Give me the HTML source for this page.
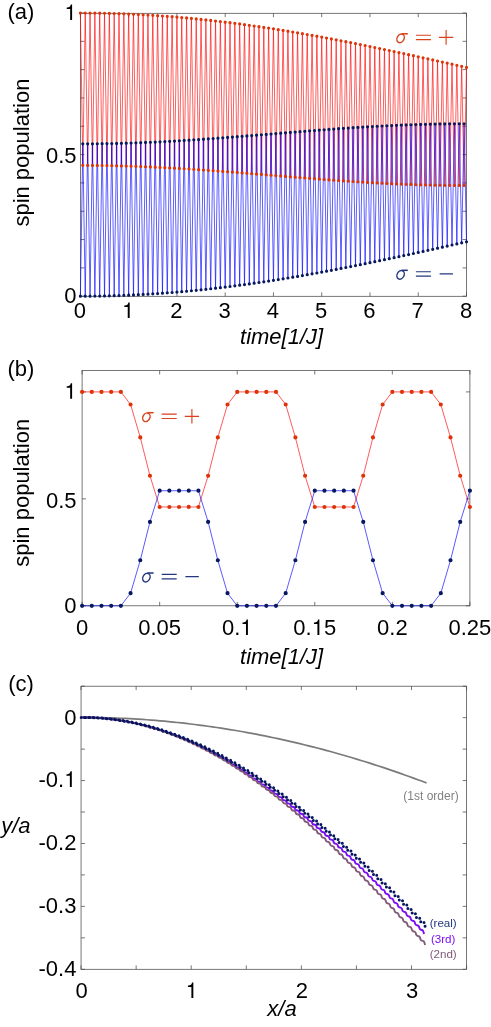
<!DOCTYPE html>
<html><head><meta charset="utf-8"><title>fig</title>
<style>html,body{margin:0;padding:0;background:#fff;font-family:"Liberation Sans",sans-serif;overflow:hidden}svg{display:block;position:absolute;left:0;top:0;will-change:transform}</style>
</head><body><svg width="491" height="1027" viewBox="0 0 491 1027" font-family="Liberation Sans, sans-serif"><rect x="80.4" y="13.3" width="386.1" height="283" fill="none" stroke="#4a4a4a" stroke-width="0.75"/>
<path d="M80.4 296.3v-3.9M80.4 13.3v3.9M128.66 296.3v-3.9M128.66 13.3v3.9M176.93 296.3v-3.9M176.93 13.3v3.9M225.19 296.3v-3.9M225.19 13.3v3.9M273.45 296.3v-3.9M273.45 13.3v3.9M321.71 296.3v-3.9M321.71 13.3v3.9M369.98 296.3v-3.9M369.98 13.3v3.9M418.24 296.3v-3.9M418.24 13.3v3.9M466.5 296.3v-3.9M466.5 13.3v3.9M80.4 296.2h3.9M466.5 296.2h-3.9M80.4 267.88h3.9M466.5 267.88h-3.9M80.4 239.56h3.9M466.5 239.56h-3.9M80.4 211.24h3.9M466.5 211.24h-3.9M80.4 182.92h3.9M466.5 182.92h-3.9M80.4 154.6h3.9M466.5 154.6h-3.9M80.4 126.28h3.9M466.5 126.28h-3.9M80.4 97.96h3.9M466.5 97.96h-3.9M80.4 69.64h3.9M466.5 69.64h-3.9M80.4 41.32h3.9M466.5 41.32h-3.9M80.4 13h3.9M466.5 13h-3.9" fill="none" stroke="#4a4a4a" stroke-width="0.75"/>
<path d="M80.4 13L82.81 165.36M85.23 13.01L87.64 165.38M90.05 13.04L92.47 165.41M94.88 13.09L97.29 165.46M99.71 13.17L102.12 165.52M104.53 13.26L106.94 165.6M109.36 13.38L111.77 165.69M114.18 13.51L116.6 165.79M119.01 13.67L121.42 165.92M123.84 13.84L126.25 166.05M128.66 14.04L131.08 166.2M133.49 14.26L135.9 166.37M138.32 14.5L140.73 166.55M143.14 14.75L145.55 166.74M147.97 15.03L150.38 166.95M152.79 15.33L155.21 167.17M157.62 15.65L160.03 167.4M162.45 15.99L164.86 167.64M167.27 16.34L169.69 167.9M172.1 16.72L174.51 168.17M176.93 17.12L179.34 168.45M181.75 17.54L184.16 168.74M186.58 17.97L188.99 169.04M191.4 18.43L193.82 169.35M196.23 18.9L198.64 169.67M201.06 19.39L203.47 169.99M205.88 19.9L208.3 170.33M210.71 20.43L213.12 170.68M215.54 20.98L217.95 171.03M220.36 21.54L222.77 171.39M225.19 22.13L227.6 171.75M230.01 22.72L232.43 172.12M234.84 23.34L237.25 172.5M239.67 23.98L242.08 172.88M244.49 24.63L246.91 173.26M249.32 25.29L251.73 173.65M254.15 25.98L256.56 174.04M258.97 26.68L261.38 174.43M263.8 27.39L266.21 174.82M268.62 28.12L271.04 175.22M273.45 28.87L275.86 175.61M278.28 29.63L280.69 176.01M283.1 30.4L285.52 176.4M287.93 31.19L290.34 176.79M292.75 32L295.17 177.18M297.58 32.82L299.99 177.57M302.41 33.65L304.82 177.95M307.23 34.49L309.65 178.33M312.06 35.35L314.47 178.71M316.89 36.22L319.3 179.08M321.71 37.1L324.13 179.44M326.54 37.99L328.95 179.8M331.37 38.9L333.78 180.15M336.19 39.81L338.6 180.5M341.02 40.74L343.43 180.84M345.84 41.68L348.26 181.16M350.67 42.62L353.08 181.48M355.5 43.58L357.91 181.79M360.32 44.55L362.74 182.09M365.15 45.52L367.56 182.38M369.98 46.51L372.39 182.66M374.8 47.5L377.21 182.93M379.63 48.5L382.04 183.19M384.45 49.51L386.87 183.43M389.28 50.52L391.69 183.66M394.11 51.55L396.52 183.88M398.93 52.57L401.35 184.09M403.76 53.61L406.17 184.28M408.59 54.65L411 184.46M413.41 55.69L415.82 184.63M418.24 56.74L420.65 184.78M423.06 57.8L425.48 184.91M427.89 58.86L430.3 185.04M432.72 59.92L435.13 185.14M437.54 60.99L439.96 185.24M442.37 62.05L444.78 185.31M447.2 63.12L449.61 185.37M452.02 64.2L454.43 185.42M456.85 65.27L459.26 185.45M461.67 66.35L464.09 185.47" fill="none" stroke="#ff0000" stroke-width="0.63" stroke-linecap="round"/>
<path d="M82.81 165.36L85.23 13.01M87.64 165.38L90.05 13.04M92.47 165.41L94.88 13.09M97.29 165.46L99.71 13.17M102.12 165.52L104.53 13.26M106.94 165.6L109.36 13.38M111.77 165.69L114.18 13.51M116.6 165.79L119.01 13.67M121.42 165.92L123.84 13.84M126.25 166.05L128.66 14.04M131.08 166.2L133.49 14.26M135.9 166.37L138.32 14.5M140.73 166.55L143.14 14.75M145.55 166.74L147.97 15.03M150.38 166.95L152.79 15.33M155.21 167.17L157.62 15.65M160.03 167.4L162.45 15.99M164.86 167.64L167.27 16.34M169.69 167.9L172.1 16.72M174.51 168.17L176.93 17.12M179.34 168.45L181.75 17.54M184.16 168.74L186.58 17.97M188.99 169.04L191.4 18.43M193.82 169.35L196.23 18.9M198.64 169.67L201.06 19.39M203.47 169.99L205.88 19.9M208.3 170.33L210.71 20.43M213.12 170.68L215.54 20.98M217.95 171.03L220.36 21.54M222.77 171.39L225.19 22.13M227.6 171.75L230.01 22.72M232.43 172.12L234.84 23.34M237.25 172.5L239.67 23.98M242.08 172.88L244.49 24.63M246.91 173.26L249.32 25.29M251.73 173.65L254.15 25.98M256.56 174.04L258.97 26.68M261.38 174.43L263.8 27.39M266.21 174.82L268.62 28.12M271.04 175.22L273.45 28.87M275.86 175.61L278.28 29.63M280.69 176.01L283.1 30.4M285.52 176.4L287.93 31.19M290.34 176.79L292.75 32M295.17 177.18L297.58 32.82M299.99 177.57L302.41 33.65M304.82 177.95L307.23 34.49M309.65 178.33L312.06 35.35M314.47 178.71L316.89 36.22M319.3 179.08L321.71 37.1M324.13 179.44L326.54 37.99M328.95 179.8L331.37 38.9M333.78 180.15L336.19 39.81M338.6 180.5L341.02 40.74M343.43 180.84L345.84 41.68M348.26 181.16L350.67 42.62M353.08 181.48L355.5 43.58M357.91 181.79L360.32 44.55M362.74 182.09L365.15 45.52M367.56 182.38L369.98 46.51M372.39 182.66L374.8 47.5M377.21 182.93L379.63 48.5M382.04 183.19L384.45 49.51M386.87 183.43L389.28 50.52M391.69 183.66L394.11 51.55M396.52 183.88L398.93 52.57M401.35 184.09L403.76 53.61M406.17 184.28L408.59 54.65M411 184.46L413.41 55.69M415.82 184.63L418.24 56.74M420.65 184.78L423.06 57.8M425.48 184.91L427.89 58.86M430.3 185.04L432.72 59.92M435.13 185.14L437.54 60.99M439.96 185.24L442.37 62.05M444.78 185.31L447.2 63.12M449.61 185.37L452.02 64.2M454.43 185.42L456.85 65.27M459.26 185.45L461.67 66.35M464.09 185.47L466.5 67.42" fill="none" stroke="#ff0000" stroke-width="0.63" stroke-linecap="round"/>
<path d="M80.4 296.2L82.81 143.84M85.23 296.19L87.64 143.82M90.05 296.16L92.47 143.79M94.88 296.11L97.29 143.74M99.71 296.03L102.12 143.68M104.53 295.94L106.94 143.6M109.36 295.82L111.77 143.51M114.18 295.69L116.6 143.41M119.01 295.53L121.42 143.28M123.84 295.36L126.25 143.15M128.66 295.16L131.08 143M133.49 294.94L135.9 142.83M138.32 294.7L140.73 142.65M143.14 294.45L145.55 142.46M147.97 294.17L150.38 142.25M152.79 293.87L155.21 142.03M157.62 293.55L160.03 141.8M162.45 293.21L164.86 141.56M167.27 292.86L169.69 141.3M172.1 292.48L174.51 141.03M176.93 292.08L179.34 140.75M181.75 291.66L184.16 140.46M186.58 291.23L188.99 140.16M191.4 290.77L193.82 139.85M196.23 290.3L198.64 139.53M201.06 289.81L203.47 139.21M205.88 289.3L208.3 138.87M210.71 288.77L213.12 138.52M215.54 288.22L217.95 138.17M220.36 287.66L222.77 137.81M225.19 287.07L227.6 137.45M230.01 286.48L232.43 137.08M234.84 285.86L237.25 136.7M239.67 285.22L242.08 136.32M244.49 284.57L246.91 135.94M249.32 283.91L251.73 135.55M254.15 283.22L256.56 135.16M258.97 282.52L261.38 134.77M263.8 281.81L266.21 134.38M268.62 281.08L271.04 133.98M273.45 280.33L275.86 133.59M278.28 279.57L280.69 133.19M283.1 278.8L285.52 132.8M287.93 278.01L290.34 132.41M292.75 277.2L295.17 132.02M297.58 276.38L299.99 131.63M302.41 275.55L304.82 131.25M307.23 274.71L309.65 130.87M312.06 273.85L314.47 130.49M316.89 272.98L319.3 130.12M321.71 272.1L324.13 129.76M326.54 271.21L328.95 129.4M331.37 270.3L333.78 129.05M336.19 269.39L338.6 128.7M341.02 268.46L343.43 128.36M345.84 267.52L348.26 128.04M350.67 266.58L353.08 127.72M355.5 265.62L357.91 127.41M360.32 264.65L362.74 127.11M365.15 263.68L367.56 126.82M369.98 262.69L372.39 126.54M374.8 261.7L377.21 126.27M379.63 260.7L382.04 126.01M384.45 259.69L386.87 125.77M389.28 258.68L391.69 125.54M394.11 257.65L396.52 125.32M398.93 256.63L401.35 125.11M403.76 255.59L406.17 124.92M408.59 254.55L411 124.74M413.41 253.51L415.82 124.57M418.24 252.46L420.65 124.42M423.06 251.4L425.48 124.29M427.89 250.34L430.3 124.16M432.72 249.28L435.13 124.06M437.54 248.21L439.96 123.96M442.37 247.15L444.78 123.89M447.2 246.08L449.61 123.83M452.02 245L454.43 123.78M456.85 243.93L459.26 123.75M461.67 242.85L464.09 123.73" fill="none" stroke="#0000ff" stroke-width="0.63" stroke-linecap="round"/>
<path d="M82.81 143.84L85.23 296.19M87.64 143.82L90.05 296.16M92.47 143.79L94.88 296.11M97.29 143.74L99.71 296.03M102.12 143.68L104.53 295.94M106.94 143.6L109.36 295.82M111.77 143.51L114.18 295.69M116.6 143.41L119.01 295.53M121.42 143.28L123.84 295.36M126.25 143.15L128.66 295.16M131.08 143L133.49 294.94M135.9 142.83L138.32 294.7M140.73 142.65L143.14 294.45M145.55 142.46L147.97 294.17M150.38 142.25L152.79 293.87M155.21 142.03L157.62 293.55M160.03 141.8L162.45 293.21M164.86 141.56L167.27 292.86M169.69 141.3L172.1 292.48M174.51 141.03L176.93 292.08M179.34 140.75L181.75 291.66M184.16 140.46L186.58 291.23M188.99 140.16L191.4 290.77M193.82 139.85L196.23 290.3M198.64 139.53L201.06 289.81M203.47 139.21L205.88 289.3M208.3 138.87L210.71 288.77M213.12 138.52L215.54 288.22M217.95 138.17L220.36 287.66M222.77 137.81L225.19 287.07M227.6 137.45L230.01 286.48M232.43 137.08L234.84 285.86M237.25 136.7L239.67 285.22M242.08 136.32L244.49 284.57M246.91 135.94L249.32 283.91M251.73 135.55L254.15 283.22M256.56 135.16L258.97 282.52M261.38 134.77L263.8 281.81M266.21 134.38L268.62 281.08M271.04 133.98L273.45 280.33M275.86 133.59L278.28 279.57M280.69 133.19L283.1 278.8M285.52 132.8L287.93 278.01M290.34 132.41L292.75 277.2M295.17 132.02L297.58 276.38M299.99 131.63L302.41 275.55M304.82 131.25L307.23 274.71M309.65 130.87L312.06 273.85M314.47 130.49L316.89 272.98M319.3 130.12L321.71 272.1M324.13 129.76L326.54 271.21M328.95 129.4L331.37 270.3M333.78 129.05L336.19 269.39M338.6 128.7L341.02 268.46M343.43 128.36L345.84 267.52M348.26 128.04L350.67 266.58M353.08 127.72L355.5 265.62M357.91 127.41L360.32 264.65M362.74 127.11L365.15 263.68M367.56 126.82L369.98 262.69M372.39 126.54L374.8 261.7M377.21 126.27L379.63 260.7M382.04 126.01L384.45 259.69M386.87 125.77L389.28 258.68M391.69 125.54L394.11 257.65M396.52 125.32L398.93 256.63M401.35 125.11L403.76 255.59M406.17 124.92L408.59 254.55M411 124.74L413.41 253.51M415.82 124.57L418.24 252.46M420.65 124.42L423.06 251.4M425.48 124.29L427.89 250.34M430.3 124.16L432.72 249.28M435.13 124.06L437.54 248.21M439.96 123.96L442.37 247.15M444.78 123.89L447.2 246.08M449.61 123.83L452.02 245M454.43 123.78L456.85 243.93M459.26 123.75L461.67 242.85M464.09 123.73L466.5 241.78" fill="none" stroke="#0000ff" stroke-width="0.63" stroke-linecap="round"/>
<path d="M78.8 13a1.6 1.6 0 1 0 3.2 0a1.6 1.6 0 1 0 -3.2 0zM81.21 165.36a1.6 1.6 0 1 0 3.2 0a1.6 1.6 0 1 0 -3.2 0zM83.63 13.01a1.6 1.6 0 1 0 3.2 0a1.6 1.6 0 1 0 -3.2 0zM86.04 165.38a1.6 1.6 0 1 0 3.2 0a1.6 1.6 0 1 0 -3.2 0zM88.45 13.04a1.6 1.6 0 1 0 3.2 0a1.6 1.6 0 1 0 -3.2 0zM90.87 165.41a1.6 1.6 0 1 0 3.2 0a1.6 1.6 0 1 0 -3.2 0zM93.28 13.09a1.6 1.6 0 1 0 3.2 0a1.6 1.6 0 1 0 -3.2 0zM95.69 165.46a1.6 1.6 0 1 0 3.2 0a1.6 1.6 0 1 0 -3.2 0zM98.11 13.17a1.6 1.6 0 1 0 3.2 0a1.6 1.6 0 1 0 -3.2 0zM100.52 165.52a1.6 1.6 0 1 0 3.2 0a1.6 1.6 0 1 0 -3.2 0zM102.93 13.26a1.6 1.6 0 1 0 3.2 0a1.6 1.6 0 1 0 -3.2 0zM105.34 165.6a1.6 1.6 0 1 0 3.2 0a1.6 1.6 0 1 0 -3.2 0zM107.76 13.38a1.6 1.6 0 1 0 3.2 0a1.6 1.6 0 1 0 -3.2 0zM110.17 165.69a1.6 1.6 0 1 0 3.2 0a1.6 1.6 0 1 0 -3.2 0zM112.58 13.51a1.6 1.6 0 1 0 3.2 0a1.6 1.6 0 1 0 -3.2 0zM115 165.79a1.6 1.6 0 1 0 3.2 0a1.6 1.6 0 1 0 -3.2 0zM117.41 13.67a1.6 1.6 0 1 0 3.2 0a1.6 1.6 0 1 0 -3.2 0zM119.82 165.92a1.6 1.6 0 1 0 3.2 0a1.6 1.6 0 1 0 -3.2 0zM122.24 13.84a1.6 1.6 0 1 0 3.2 0a1.6 1.6 0 1 0 -3.2 0zM124.65 166.05a1.6 1.6 0 1 0 3.2 0a1.6 1.6 0 1 0 -3.2 0zM127.06 14.04a1.6 1.6 0 1 0 3.2 0a1.6 1.6 0 1 0 -3.2 0zM129.48 166.2a1.6 1.6 0 1 0 3.2 0a1.6 1.6 0 1 0 -3.2 0zM131.89 14.26a1.6 1.6 0 1 0 3.2 0a1.6 1.6 0 1 0 -3.2 0zM134.3 166.37a1.6 1.6 0 1 0 3.2 0a1.6 1.6 0 1 0 -3.2 0zM136.72 14.5a1.6 1.6 0 1 0 3.2 0a1.6 1.6 0 1 0 -3.2 0zM139.13 166.55a1.6 1.6 0 1 0 3.2 0a1.6 1.6 0 1 0 -3.2 0zM141.54 14.75a1.6 1.6 0 1 0 3.2 0a1.6 1.6 0 1 0 -3.2 0zM143.95 166.74a1.6 1.6 0 1 0 3.2 0a1.6 1.6 0 1 0 -3.2 0zM146.37 15.03a1.6 1.6 0 1 0 3.2 0a1.6 1.6 0 1 0 -3.2 0zM148.78 166.95a1.6 1.6 0 1 0 3.2 0a1.6 1.6 0 1 0 -3.2 0zM151.19 15.33a1.6 1.6 0 1 0 3.2 0a1.6 1.6 0 1 0 -3.2 0zM153.61 167.17a1.6 1.6 0 1 0 3.2 0a1.6 1.6 0 1 0 -3.2 0zM156.02 15.65a1.6 1.6 0 1 0 3.2 0a1.6 1.6 0 1 0 -3.2 0zM158.43 167.4a1.6 1.6 0 1 0 3.2 0a1.6 1.6 0 1 0 -3.2 0zM160.85 15.99a1.6 1.6 0 1 0 3.2 0a1.6 1.6 0 1 0 -3.2 0zM163.26 167.64a1.6 1.6 0 1 0 3.2 0a1.6 1.6 0 1 0 -3.2 0zM165.67 16.34a1.6 1.6 0 1 0 3.2 0a1.6 1.6 0 1 0 -3.2 0zM168.09 167.9a1.6 1.6 0 1 0 3.2 0a1.6 1.6 0 1 0 -3.2 0zM170.5 16.72a1.6 1.6 0 1 0 3.2 0a1.6 1.6 0 1 0 -3.2 0zM172.91 168.17a1.6 1.6 0 1 0 3.2 0a1.6 1.6 0 1 0 -3.2 0zM175.33 17.12a1.6 1.6 0 1 0 3.2 0a1.6 1.6 0 1 0 -3.2 0zM177.74 168.45a1.6 1.6 0 1 0 3.2 0a1.6 1.6 0 1 0 -3.2 0zM180.15 17.54a1.6 1.6 0 1 0 3.2 0a1.6 1.6 0 1 0 -3.2 0zM182.56 168.74a1.6 1.6 0 1 0 3.2 0a1.6 1.6 0 1 0 -3.2 0zM184.98 17.97a1.6 1.6 0 1 0 3.2 0a1.6 1.6 0 1 0 -3.2 0zM187.39 169.04a1.6 1.6 0 1 0 3.2 0a1.6 1.6 0 1 0 -3.2 0zM189.8 18.43a1.6 1.6 0 1 0 3.2 0a1.6 1.6 0 1 0 -3.2 0zM192.22 169.35a1.6 1.6 0 1 0 3.2 0a1.6 1.6 0 1 0 -3.2 0zM194.63 18.9a1.6 1.6 0 1 0 3.2 0a1.6 1.6 0 1 0 -3.2 0zM197.04 169.67a1.6 1.6 0 1 0 3.2 0a1.6 1.6 0 1 0 -3.2 0zM199.46 19.39a1.6 1.6 0 1 0 3.2 0a1.6 1.6 0 1 0 -3.2 0zM201.87 169.99a1.6 1.6 0 1 0 3.2 0a1.6 1.6 0 1 0 -3.2 0zM204.28 19.9a1.6 1.6 0 1 0 3.2 0a1.6 1.6 0 1 0 -3.2 0zM206.7 170.33a1.6 1.6 0 1 0 3.2 0a1.6 1.6 0 1 0 -3.2 0zM209.11 20.43a1.6 1.6 0 1 0 3.2 0a1.6 1.6 0 1 0 -3.2 0zM211.52 170.68a1.6 1.6 0 1 0 3.2 0a1.6 1.6 0 1 0 -3.2 0zM213.94 20.98a1.6 1.6 0 1 0 3.2 0a1.6 1.6 0 1 0 -3.2 0zM216.35 171.03a1.6 1.6 0 1 0 3.2 0a1.6 1.6 0 1 0 -3.2 0zM218.76 21.54a1.6 1.6 0 1 0 3.2 0a1.6 1.6 0 1 0 -3.2 0zM221.17 171.39a1.6 1.6 0 1 0 3.2 0a1.6 1.6 0 1 0 -3.2 0zM223.59 22.13a1.6 1.6 0 1 0 3.2 0a1.6 1.6 0 1 0 -3.2 0zM226 171.75a1.6 1.6 0 1 0 3.2 0a1.6 1.6 0 1 0 -3.2 0zM228.41 22.72a1.6 1.6 0 1 0 3.2 0a1.6 1.6 0 1 0 -3.2 0zM230.83 172.12a1.6 1.6 0 1 0 3.2 0a1.6 1.6 0 1 0 -3.2 0zM233.24 23.34a1.6 1.6 0 1 0 3.2 0a1.6 1.6 0 1 0 -3.2 0zM235.65 172.5a1.6 1.6 0 1 0 3.2 0a1.6 1.6 0 1 0 -3.2 0zM238.07 23.98a1.6 1.6 0 1 0 3.2 0a1.6 1.6 0 1 0 -3.2 0zM240.48 172.88a1.6 1.6 0 1 0 3.2 0a1.6 1.6 0 1 0 -3.2 0zM242.89 24.63a1.6 1.6 0 1 0 3.2 0a1.6 1.6 0 1 0 -3.2 0zM245.31 173.26a1.6 1.6 0 1 0 3.2 0a1.6 1.6 0 1 0 -3.2 0zM247.72 25.29a1.6 1.6 0 1 0 3.2 0a1.6 1.6 0 1 0 -3.2 0zM250.13 173.65a1.6 1.6 0 1 0 3.2 0a1.6 1.6 0 1 0 -3.2 0zM252.55 25.98a1.6 1.6 0 1 0 3.2 0a1.6 1.6 0 1 0 -3.2 0zM254.96 174.04a1.6 1.6 0 1 0 3.2 0a1.6 1.6 0 1 0 -3.2 0zM257.37 26.68a1.6 1.6 0 1 0 3.2 0a1.6 1.6 0 1 0 -3.2 0zM259.78 174.43a1.6 1.6 0 1 0 3.2 0a1.6 1.6 0 1 0 -3.2 0zM262.2 27.39a1.6 1.6 0 1 0 3.2 0a1.6 1.6 0 1 0 -3.2 0zM264.61 174.82a1.6 1.6 0 1 0 3.2 0a1.6 1.6 0 1 0 -3.2 0zM267.02 28.12a1.6 1.6 0 1 0 3.2 0a1.6 1.6 0 1 0 -3.2 0zM269.44 175.22a1.6 1.6 0 1 0 3.2 0a1.6 1.6 0 1 0 -3.2 0zM271.85 28.87a1.6 1.6 0 1 0 3.2 0a1.6 1.6 0 1 0 -3.2 0zM274.26 175.61a1.6 1.6 0 1 0 3.2 0a1.6 1.6 0 1 0 -3.2 0zM276.68 29.63a1.6 1.6 0 1 0 3.2 0a1.6 1.6 0 1 0 -3.2 0zM279.09 176.01a1.6 1.6 0 1 0 3.2 0a1.6 1.6 0 1 0 -3.2 0zM281.5 30.4a1.6 1.6 0 1 0 3.2 0a1.6 1.6 0 1 0 -3.2 0zM283.92 176.4a1.6 1.6 0 1 0 3.2 0a1.6 1.6 0 1 0 -3.2 0zM286.33 31.19a1.6 1.6 0 1 0 3.2 0a1.6 1.6 0 1 0 -3.2 0zM288.74 176.79a1.6 1.6 0 1 0 3.2 0a1.6 1.6 0 1 0 -3.2 0zM291.15 32a1.6 1.6 0 1 0 3.2 0a1.6 1.6 0 1 0 -3.2 0zM293.57 177.18a1.6 1.6 0 1 0 3.2 0a1.6 1.6 0 1 0 -3.2 0zM295.98 32.82a1.6 1.6 0 1 0 3.2 0a1.6 1.6 0 1 0 -3.2 0zM298.39 177.57a1.6 1.6 0 1 0 3.2 0a1.6 1.6 0 1 0 -3.2 0zM300.81 33.65a1.6 1.6 0 1 0 3.2 0a1.6 1.6 0 1 0 -3.2 0zM303.22 177.95a1.6 1.6 0 1 0 3.2 0a1.6 1.6 0 1 0 -3.2 0zM305.63 34.49a1.6 1.6 0 1 0 3.2 0a1.6 1.6 0 1 0 -3.2 0zM308.05 178.33a1.6 1.6 0 1 0 3.2 0a1.6 1.6 0 1 0 -3.2 0zM310.46 35.35a1.6 1.6 0 1 0 3.2 0a1.6 1.6 0 1 0 -3.2 0zM312.87 178.71a1.6 1.6 0 1 0 3.2 0a1.6 1.6 0 1 0 -3.2 0zM315.29 36.22a1.6 1.6 0 1 0 3.2 0a1.6 1.6 0 1 0 -3.2 0zM317.7 179.08a1.6 1.6 0 1 0 3.2 0a1.6 1.6 0 1 0 -3.2 0zM320.11 37.1a1.6 1.6 0 1 0 3.2 0a1.6 1.6 0 1 0 -3.2 0zM322.53 179.44a1.6 1.6 0 1 0 3.2 0a1.6 1.6 0 1 0 -3.2 0zM324.94 37.99a1.6 1.6 0 1 0 3.2 0a1.6 1.6 0 1 0 -3.2 0zM327.35 179.8a1.6 1.6 0 1 0 3.2 0a1.6 1.6 0 1 0 -3.2 0zM329.76 38.9a1.6 1.6 0 1 0 3.2 0a1.6 1.6 0 1 0 -3.2 0zM332.18 180.15a1.6 1.6 0 1 0 3.2 0a1.6 1.6 0 1 0 -3.2 0zM334.59 39.81a1.6 1.6 0 1 0 3.2 0a1.6 1.6 0 1 0 -3.2 0zM337 180.5a1.6 1.6 0 1 0 3.2 0a1.6 1.6 0 1 0 -3.2 0zM339.42 40.74a1.6 1.6 0 1 0 3.2 0a1.6 1.6 0 1 0 -3.2 0zM341.83 180.84a1.6 1.6 0 1 0 3.2 0a1.6 1.6 0 1 0 -3.2 0zM344.24 41.68a1.6 1.6 0 1 0 3.2 0a1.6 1.6 0 1 0 -3.2 0zM346.66 181.16a1.6 1.6 0 1 0 3.2 0a1.6 1.6 0 1 0 -3.2 0zM349.07 42.62a1.6 1.6 0 1 0 3.2 0a1.6 1.6 0 1 0 -3.2 0zM351.48 181.48a1.6 1.6 0 1 0 3.2 0a1.6 1.6 0 1 0 -3.2 0zM353.9 43.58a1.6 1.6 0 1 0 3.2 0a1.6 1.6 0 1 0 -3.2 0zM356.31 181.79a1.6 1.6 0 1 0 3.2 0a1.6 1.6 0 1 0 -3.2 0zM358.72 44.55a1.6 1.6 0 1 0 3.2 0a1.6 1.6 0 1 0 -3.2 0zM361.14 182.09a1.6 1.6 0 1 0 3.2 0a1.6 1.6 0 1 0 -3.2 0zM363.55 45.52a1.6 1.6 0 1 0 3.2 0a1.6 1.6 0 1 0 -3.2 0zM365.96 182.38a1.6 1.6 0 1 0 3.2 0a1.6 1.6 0 1 0 -3.2 0zM368.38 46.51a1.6 1.6 0 1 0 3.2 0a1.6 1.6 0 1 0 -3.2 0zM370.79 182.66a1.6 1.6 0 1 0 3.2 0a1.6 1.6 0 1 0 -3.2 0zM373.2 47.5a1.6 1.6 0 1 0 3.2 0a1.6 1.6 0 1 0 -3.2 0zM375.61 182.93a1.6 1.6 0 1 0 3.2 0a1.6 1.6 0 1 0 -3.2 0zM378.03 48.5a1.6 1.6 0 1 0 3.2 0a1.6 1.6 0 1 0 -3.2 0zM380.44 183.19a1.6 1.6 0 1 0 3.2 0a1.6 1.6 0 1 0 -3.2 0zM382.85 49.51a1.6 1.6 0 1 0 3.2 0a1.6 1.6 0 1 0 -3.2 0zM385.27 183.43a1.6 1.6 0 1 0 3.2 0a1.6 1.6 0 1 0 -3.2 0zM387.68 50.52a1.6 1.6 0 1 0 3.2 0a1.6 1.6 0 1 0 -3.2 0zM390.09 183.66a1.6 1.6 0 1 0 3.2 0a1.6 1.6 0 1 0 -3.2 0zM392.51 51.55a1.6 1.6 0 1 0 3.2 0a1.6 1.6 0 1 0 -3.2 0zM394.92 183.88a1.6 1.6 0 1 0 3.2 0a1.6 1.6 0 1 0 -3.2 0zM397.33 52.57a1.6 1.6 0 1 0 3.2 0a1.6 1.6 0 1 0 -3.2 0zM399.75 184.09a1.6 1.6 0 1 0 3.2 0a1.6 1.6 0 1 0 -3.2 0zM402.16 53.61a1.6 1.6 0 1 0 3.2 0a1.6 1.6 0 1 0 -3.2 0zM404.57 184.28a1.6 1.6 0 1 0 3.2 0a1.6 1.6 0 1 0 -3.2 0zM406.99 54.65a1.6 1.6 0 1 0 3.2 0a1.6 1.6 0 1 0 -3.2 0zM409.4 184.46a1.6 1.6 0 1 0 3.2 0a1.6 1.6 0 1 0 -3.2 0zM411.81 55.69a1.6 1.6 0 1 0 3.2 0a1.6 1.6 0 1 0 -3.2 0zM414.22 184.63a1.6 1.6 0 1 0 3.2 0a1.6 1.6 0 1 0 -3.2 0zM416.64 56.74a1.6 1.6 0 1 0 3.2 0a1.6 1.6 0 1 0 -3.2 0zM419.05 184.78a1.6 1.6 0 1 0 3.2 0a1.6 1.6 0 1 0 -3.2 0zM421.46 57.8a1.6 1.6 0 1 0 3.2 0a1.6 1.6 0 1 0 -3.2 0zM423.88 184.91a1.6 1.6 0 1 0 3.2 0a1.6 1.6 0 1 0 -3.2 0zM426.29 58.86a1.6 1.6 0 1 0 3.2 0a1.6 1.6 0 1 0 -3.2 0zM428.7 185.04a1.6 1.6 0 1 0 3.2 0a1.6 1.6 0 1 0 -3.2 0zM431.12 59.92a1.6 1.6 0 1 0 3.2 0a1.6 1.6 0 1 0 -3.2 0zM433.53 185.14a1.6 1.6 0 1 0 3.2 0a1.6 1.6 0 1 0 -3.2 0zM435.94 60.99a1.6 1.6 0 1 0 3.2 0a1.6 1.6 0 1 0 -3.2 0zM438.36 185.24a1.6 1.6 0 1 0 3.2 0a1.6 1.6 0 1 0 -3.2 0zM440.77 62.05a1.6 1.6 0 1 0 3.2 0a1.6 1.6 0 1 0 -3.2 0zM443.18 185.31a1.6 1.6 0 1 0 3.2 0a1.6 1.6 0 1 0 -3.2 0zM445.6 63.12a1.6 1.6 0 1 0 3.2 0a1.6 1.6 0 1 0 -3.2 0zM448.01 185.37a1.6 1.6 0 1 0 3.2 0a1.6 1.6 0 1 0 -3.2 0zM450.42 64.2a1.6 1.6 0 1 0 3.2 0a1.6 1.6 0 1 0 -3.2 0zM452.83 185.42a1.6 1.6 0 1 0 3.2 0a1.6 1.6 0 1 0 -3.2 0zM455.25 65.27a1.6 1.6 0 1 0 3.2 0a1.6 1.6 0 1 0 -3.2 0zM457.66 185.45a1.6 1.6 0 1 0 3.2 0a1.6 1.6 0 1 0 -3.2 0zM460.07 66.35a1.6 1.6 0 1 0 3.2 0a1.6 1.6 0 1 0 -3.2 0zM462.49 185.47a1.6 1.6 0 1 0 3.2 0a1.6 1.6 0 1 0 -3.2 0zM464.9 67.42a1.6 1.6 0 1 0 3.2 0a1.6 1.6 0 1 0 -3.2 0z" fill="#de3208"/>
<path d="M78.8 296.2a1.6 1.6 0 1 0 3.2 0a1.6 1.6 0 1 0 -3.2 0zM81.21 143.84a1.6 1.6 0 1 0 3.2 0a1.6 1.6 0 1 0 -3.2 0zM83.63 296.19a1.6 1.6 0 1 0 3.2 0a1.6 1.6 0 1 0 -3.2 0zM86.04 143.82a1.6 1.6 0 1 0 3.2 0a1.6 1.6 0 1 0 -3.2 0zM88.45 296.16a1.6 1.6 0 1 0 3.2 0a1.6 1.6 0 1 0 -3.2 0zM90.87 143.79a1.6 1.6 0 1 0 3.2 0a1.6 1.6 0 1 0 -3.2 0zM93.28 296.11a1.6 1.6 0 1 0 3.2 0a1.6 1.6 0 1 0 -3.2 0zM95.69 143.74a1.6 1.6 0 1 0 3.2 0a1.6 1.6 0 1 0 -3.2 0zM98.11 296.03a1.6 1.6 0 1 0 3.2 0a1.6 1.6 0 1 0 -3.2 0zM100.52 143.68a1.6 1.6 0 1 0 3.2 0a1.6 1.6 0 1 0 -3.2 0zM102.93 295.94a1.6 1.6 0 1 0 3.2 0a1.6 1.6 0 1 0 -3.2 0zM105.34 143.6a1.6 1.6 0 1 0 3.2 0a1.6 1.6 0 1 0 -3.2 0zM107.76 295.82a1.6 1.6 0 1 0 3.2 0a1.6 1.6 0 1 0 -3.2 0zM110.17 143.51a1.6 1.6 0 1 0 3.2 0a1.6 1.6 0 1 0 -3.2 0zM112.58 295.69a1.6 1.6 0 1 0 3.2 0a1.6 1.6 0 1 0 -3.2 0zM115 143.41a1.6 1.6 0 1 0 3.2 0a1.6 1.6 0 1 0 -3.2 0zM117.41 295.53a1.6 1.6 0 1 0 3.2 0a1.6 1.6 0 1 0 -3.2 0zM119.82 143.28a1.6 1.6 0 1 0 3.2 0a1.6 1.6 0 1 0 -3.2 0zM122.24 295.36a1.6 1.6 0 1 0 3.2 0a1.6 1.6 0 1 0 -3.2 0zM124.65 143.15a1.6 1.6 0 1 0 3.2 0a1.6 1.6 0 1 0 -3.2 0zM127.06 295.16a1.6 1.6 0 1 0 3.2 0a1.6 1.6 0 1 0 -3.2 0zM129.48 143a1.6 1.6 0 1 0 3.2 0a1.6 1.6 0 1 0 -3.2 0zM131.89 294.94a1.6 1.6 0 1 0 3.2 0a1.6 1.6 0 1 0 -3.2 0zM134.3 142.83a1.6 1.6 0 1 0 3.2 0a1.6 1.6 0 1 0 -3.2 0zM136.72 294.7a1.6 1.6 0 1 0 3.2 0a1.6 1.6 0 1 0 -3.2 0zM139.13 142.65a1.6 1.6 0 1 0 3.2 0a1.6 1.6 0 1 0 -3.2 0zM141.54 294.45a1.6 1.6 0 1 0 3.2 0a1.6 1.6 0 1 0 -3.2 0zM143.95 142.46a1.6 1.6 0 1 0 3.2 0a1.6 1.6 0 1 0 -3.2 0zM146.37 294.17a1.6 1.6 0 1 0 3.2 0a1.6 1.6 0 1 0 -3.2 0zM148.78 142.25a1.6 1.6 0 1 0 3.2 0a1.6 1.6 0 1 0 -3.2 0zM151.19 293.87a1.6 1.6 0 1 0 3.2 0a1.6 1.6 0 1 0 -3.2 0zM153.61 142.03a1.6 1.6 0 1 0 3.2 0a1.6 1.6 0 1 0 -3.2 0zM156.02 293.55a1.6 1.6 0 1 0 3.2 0a1.6 1.6 0 1 0 -3.2 0zM158.43 141.8a1.6 1.6 0 1 0 3.2 0a1.6 1.6 0 1 0 -3.2 0zM160.85 293.21a1.6 1.6 0 1 0 3.2 0a1.6 1.6 0 1 0 -3.2 0zM163.26 141.56a1.6 1.6 0 1 0 3.2 0a1.6 1.6 0 1 0 -3.2 0zM165.67 292.86a1.6 1.6 0 1 0 3.2 0a1.6 1.6 0 1 0 -3.2 0zM168.09 141.3a1.6 1.6 0 1 0 3.2 0a1.6 1.6 0 1 0 -3.2 0zM170.5 292.48a1.6 1.6 0 1 0 3.2 0a1.6 1.6 0 1 0 -3.2 0zM172.91 141.03a1.6 1.6 0 1 0 3.2 0a1.6 1.6 0 1 0 -3.2 0zM175.33 292.08a1.6 1.6 0 1 0 3.2 0a1.6 1.6 0 1 0 -3.2 0zM177.74 140.75a1.6 1.6 0 1 0 3.2 0a1.6 1.6 0 1 0 -3.2 0zM180.15 291.66a1.6 1.6 0 1 0 3.2 0a1.6 1.6 0 1 0 -3.2 0zM182.56 140.46a1.6 1.6 0 1 0 3.2 0a1.6 1.6 0 1 0 -3.2 0zM184.98 291.23a1.6 1.6 0 1 0 3.2 0a1.6 1.6 0 1 0 -3.2 0zM187.39 140.16a1.6 1.6 0 1 0 3.2 0a1.6 1.6 0 1 0 -3.2 0zM189.8 290.77a1.6 1.6 0 1 0 3.2 0a1.6 1.6 0 1 0 -3.2 0zM192.22 139.85a1.6 1.6 0 1 0 3.2 0a1.6 1.6 0 1 0 -3.2 0zM194.63 290.3a1.6 1.6 0 1 0 3.2 0a1.6 1.6 0 1 0 -3.2 0zM197.04 139.53a1.6 1.6 0 1 0 3.2 0a1.6 1.6 0 1 0 -3.2 0zM199.46 289.81a1.6 1.6 0 1 0 3.2 0a1.6 1.6 0 1 0 -3.2 0zM201.87 139.21a1.6 1.6 0 1 0 3.2 0a1.6 1.6 0 1 0 -3.2 0zM204.28 289.3a1.6 1.6 0 1 0 3.2 0a1.6 1.6 0 1 0 -3.2 0zM206.7 138.87a1.6 1.6 0 1 0 3.2 0a1.6 1.6 0 1 0 -3.2 0zM209.11 288.77a1.6 1.6 0 1 0 3.2 0a1.6 1.6 0 1 0 -3.2 0zM211.52 138.52a1.6 1.6 0 1 0 3.2 0a1.6 1.6 0 1 0 -3.2 0zM213.94 288.22a1.6 1.6 0 1 0 3.2 0a1.6 1.6 0 1 0 -3.2 0zM216.35 138.17a1.6 1.6 0 1 0 3.2 0a1.6 1.6 0 1 0 -3.2 0zM218.76 287.66a1.6 1.6 0 1 0 3.2 0a1.6 1.6 0 1 0 -3.2 0zM221.17 137.81a1.6 1.6 0 1 0 3.2 0a1.6 1.6 0 1 0 -3.2 0zM223.59 287.07a1.6 1.6 0 1 0 3.2 0a1.6 1.6 0 1 0 -3.2 0zM226 137.45a1.6 1.6 0 1 0 3.2 0a1.6 1.6 0 1 0 -3.2 0zM228.41 286.48a1.6 1.6 0 1 0 3.2 0a1.6 1.6 0 1 0 -3.2 0zM230.83 137.08a1.6 1.6 0 1 0 3.2 0a1.6 1.6 0 1 0 -3.2 0zM233.24 285.86a1.6 1.6 0 1 0 3.2 0a1.6 1.6 0 1 0 -3.2 0zM235.65 136.7a1.6 1.6 0 1 0 3.2 0a1.6 1.6 0 1 0 -3.2 0zM238.07 285.22a1.6 1.6 0 1 0 3.2 0a1.6 1.6 0 1 0 -3.2 0zM240.48 136.32a1.6 1.6 0 1 0 3.2 0a1.6 1.6 0 1 0 -3.2 0zM242.89 284.57a1.6 1.6 0 1 0 3.2 0a1.6 1.6 0 1 0 -3.2 0zM245.31 135.94a1.6 1.6 0 1 0 3.2 0a1.6 1.6 0 1 0 -3.2 0zM247.72 283.91a1.6 1.6 0 1 0 3.2 0a1.6 1.6 0 1 0 -3.2 0zM250.13 135.55a1.6 1.6 0 1 0 3.2 0a1.6 1.6 0 1 0 -3.2 0zM252.55 283.22a1.6 1.6 0 1 0 3.2 0a1.6 1.6 0 1 0 -3.2 0zM254.96 135.16a1.6 1.6 0 1 0 3.2 0a1.6 1.6 0 1 0 -3.2 0zM257.37 282.52a1.6 1.6 0 1 0 3.2 0a1.6 1.6 0 1 0 -3.2 0zM259.78 134.77a1.6 1.6 0 1 0 3.2 0a1.6 1.6 0 1 0 -3.2 0zM262.2 281.81a1.6 1.6 0 1 0 3.2 0a1.6 1.6 0 1 0 -3.2 0zM264.61 134.38a1.6 1.6 0 1 0 3.2 0a1.6 1.6 0 1 0 -3.2 0zM267.02 281.08a1.6 1.6 0 1 0 3.2 0a1.6 1.6 0 1 0 -3.2 0zM269.44 133.98a1.6 1.6 0 1 0 3.2 0a1.6 1.6 0 1 0 -3.2 0zM271.85 280.33a1.6 1.6 0 1 0 3.2 0a1.6 1.6 0 1 0 -3.2 0zM274.26 133.59a1.6 1.6 0 1 0 3.2 0a1.6 1.6 0 1 0 -3.2 0zM276.68 279.57a1.6 1.6 0 1 0 3.2 0a1.6 1.6 0 1 0 -3.2 0zM279.09 133.19a1.6 1.6 0 1 0 3.2 0a1.6 1.6 0 1 0 -3.2 0zM281.5 278.8a1.6 1.6 0 1 0 3.2 0a1.6 1.6 0 1 0 -3.2 0zM283.92 132.8a1.6 1.6 0 1 0 3.2 0a1.6 1.6 0 1 0 -3.2 0zM286.33 278.01a1.6 1.6 0 1 0 3.2 0a1.6 1.6 0 1 0 -3.2 0zM288.74 132.41a1.6 1.6 0 1 0 3.2 0a1.6 1.6 0 1 0 -3.2 0zM291.15 277.2a1.6 1.6 0 1 0 3.2 0a1.6 1.6 0 1 0 -3.2 0zM293.57 132.02a1.6 1.6 0 1 0 3.2 0a1.6 1.6 0 1 0 -3.2 0zM295.98 276.38a1.6 1.6 0 1 0 3.2 0a1.6 1.6 0 1 0 -3.2 0zM298.39 131.63a1.6 1.6 0 1 0 3.2 0a1.6 1.6 0 1 0 -3.2 0zM300.81 275.55a1.6 1.6 0 1 0 3.2 0a1.6 1.6 0 1 0 -3.2 0zM303.22 131.25a1.6 1.6 0 1 0 3.2 0a1.6 1.6 0 1 0 -3.2 0zM305.63 274.71a1.6 1.6 0 1 0 3.2 0a1.6 1.6 0 1 0 -3.2 0zM308.05 130.87a1.6 1.6 0 1 0 3.2 0a1.6 1.6 0 1 0 -3.2 0zM310.46 273.85a1.6 1.6 0 1 0 3.2 0a1.6 1.6 0 1 0 -3.2 0zM312.87 130.49a1.6 1.6 0 1 0 3.2 0a1.6 1.6 0 1 0 -3.2 0zM315.29 272.98a1.6 1.6 0 1 0 3.2 0a1.6 1.6 0 1 0 -3.2 0zM317.7 130.12a1.6 1.6 0 1 0 3.2 0a1.6 1.6 0 1 0 -3.2 0zM320.11 272.1a1.6 1.6 0 1 0 3.2 0a1.6 1.6 0 1 0 -3.2 0zM322.53 129.76a1.6 1.6 0 1 0 3.2 0a1.6 1.6 0 1 0 -3.2 0zM324.94 271.21a1.6 1.6 0 1 0 3.2 0a1.6 1.6 0 1 0 -3.2 0zM327.35 129.4a1.6 1.6 0 1 0 3.2 0a1.6 1.6 0 1 0 -3.2 0zM329.76 270.3a1.6 1.6 0 1 0 3.2 0a1.6 1.6 0 1 0 -3.2 0zM332.18 129.05a1.6 1.6 0 1 0 3.2 0a1.6 1.6 0 1 0 -3.2 0zM334.59 269.39a1.6 1.6 0 1 0 3.2 0a1.6 1.6 0 1 0 -3.2 0zM337 128.7a1.6 1.6 0 1 0 3.2 0a1.6 1.6 0 1 0 -3.2 0zM339.42 268.46a1.6 1.6 0 1 0 3.2 0a1.6 1.6 0 1 0 -3.2 0zM341.83 128.36a1.6 1.6 0 1 0 3.2 0a1.6 1.6 0 1 0 -3.2 0zM344.24 267.52a1.6 1.6 0 1 0 3.2 0a1.6 1.6 0 1 0 -3.2 0zM346.66 128.04a1.6 1.6 0 1 0 3.2 0a1.6 1.6 0 1 0 -3.2 0zM349.07 266.58a1.6 1.6 0 1 0 3.2 0a1.6 1.6 0 1 0 -3.2 0zM351.48 127.72a1.6 1.6 0 1 0 3.2 0a1.6 1.6 0 1 0 -3.2 0zM353.9 265.62a1.6 1.6 0 1 0 3.2 0a1.6 1.6 0 1 0 -3.2 0zM356.31 127.41a1.6 1.6 0 1 0 3.2 0a1.6 1.6 0 1 0 -3.2 0zM358.72 264.65a1.6 1.6 0 1 0 3.2 0a1.6 1.6 0 1 0 -3.2 0zM361.14 127.11a1.6 1.6 0 1 0 3.2 0a1.6 1.6 0 1 0 -3.2 0zM363.55 263.68a1.6 1.6 0 1 0 3.2 0a1.6 1.6 0 1 0 -3.2 0zM365.96 126.82a1.6 1.6 0 1 0 3.2 0a1.6 1.6 0 1 0 -3.2 0zM368.38 262.69a1.6 1.6 0 1 0 3.2 0a1.6 1.6 0 1 0 -3.2 0zM370.79 126.54a1.6 1.6 0 1 0 3.2 0a1.6 1.6 0 1 0 -3.2 0zM373.2 261.7a1.6 1.6 0 1 0 3.2 0a1.6 1.6 0 1 0 -3.2 0zM375.61 126.27a1.6 1.6 0 1 0 3.2 0a1.6 1.6 0 1 0 -3.2 0zM378.03 260.7a1.6 1.6 0 1 0 3.2 0a1.6 1.6 0 1 0 -3.2 0zM380.44 126.01a1.6 1.6 0 1 0 3.2 0a1.6 1.6 0 1 0 -3.2 0zM382.85 259.69a1.6 1.6 0 1 0 3.2 0a1.6 1.6 0 1 0 -3.2 0zM385.27 125.77a1.6 1.6 0 1 0 3.2 0a1.6 1.6 0 1 0 -3.2 0zM387.68 258.68a1.6 1.6 0 1 0 3.2 0a1.6 1.6 0 1 0 -3.2 0zM390.09 125.54a1.6 1.6 0 1 0 3.2 0a1.6 1.6 0 1 0 -3.2 0zM392.51 257.65a1.6 1.6 0 1 0 3.2 0a1.6 1.6 0 1 0 -3.2 0zM394.92 125.32a1.6 1.6 0 1 0 3.2 0a1.6 1.6 0 1 0 -3.2 0zM397.33 256.63a1.6 1.6 0 1 0 3.2 0a1.6 1.6 0 1 0 -3.2 0zM399.75 125.11a1.6 1.6 0 1 0 3.2 0a1.6 1.6 0 1 0 -3.2 0zM402.16 255.59a1.6 1.6 0 1 0 3.2 0a1.6 1.6 0 1 0 -3.2 0zM404.57 124.92a1.6 1.6 0 1 0 3.2 0a1.6 1.6 0 1 0 -3.2 0zM406.99 254.55a1.6 1.6 0 1 0 3.2 0a1.6 1.6 0 1 0 -3.2 0zM409.4 124.74a1.6 1.6 0 1 0 3.2 0a1.6 1.6 0 1 0 -3.2 0zM411.81 253.51a1.6 1.6 0 1 0 3.2 0a1.6 1.6 0 1 0 -3.2 0zM414.22 124.57a1.6 1.6 0 1 0 3.2 0a1.6 1.6 0 1 0 -3.2 0zM416.64 252.46a1.6 1.6 0 1 0 3.2 0a1.6 1.6 0 1 0 -3.2 0zM419.05 124.42a1.6 1.6 0 1 0 3.2 0a1.6 1.6 0 1 0 -3.2 0zM421.46 251.4a1.6 1.6 0 1 0 3.2 0a1.6 1.6 0 1 0 -3.2 0zM423.88 124.29a1.6 1.6 0 1 0 3.2 0a1.6 1.6 0 1 0 -3.2 0zM426.29 250.34a1.6 1.6 0 1 0 3.2 0a1.6 1.6 0 1 0 -3.2 0zM428.7 124.16a1.6 1.6 0 1 0 3.2 0a1.6 1.6 0 1 0 -3.2 0zM431.12 249.28a1.6 1.6 0 1 0 3.2 0a1.6 1.6 0 1 0 -3.2 0zM433.53 124.06a1.6 1.6 0 1 0 3.2 0a1.6 1.6 0 1 0 -3.2 0zM435.94 248.21a1.6 1.6 0 1 0 3.2 0a1.6 1.6 0 1 0 -3.2 0zM438.36 123.96a1.6 1.6 0 1 0 3.2 0a1.6 1.6 0 1 0 -3.2 0zM440.77 247.15a1.6 1.6 0 1 0 3.2 0a1.6 1.6 0 1 0 -3.2 0zM443.18 123.89a1.6 1.6 0 1 0 3.2 0a1.6 1.6 0 1 0 -3.2 0zM445.6 246.08a1.6 1.6 0 1 0 3.2 0a1.6 1.6 0 1 0 -3.2 0zM448.01 123.83a1.6 1.6 0 1 0 3.2 0a1.6 1.6 0 1 0 -3.2 0zM450.42 245a1.6 1.6 0 1 0 3.2 0a1.6 1.6 0 1 0 -3.2 0zM452.83 123.78a1.6 1.6 0 1 0 3.2 0a1.6 1.6 0 1 0 -3.2 0zM455.25 243.93a1.6 1.6 0 1 0 3.2 0a1.6 1.6 0 1 0 -3.2 0zM457.66 123.75a1.6 1.6 0 1 0 3.2 0a1.6 1.6 0 1 0 -3.2 0zM460.07 242.85a1.6 1.6 0 1 0 3.2 0a1.6 1.6 0 1 0 -3.2 0zM462.49 123.73a1.6 1.6 0 1 0 3.2 0a1.6 1.6 0 1 0 -3.2 0zM464.9 241.78a1.6 1.6 0 1 0 3.2 0a1.6 1.6 0 1 0 -3.2 0z" fill="#08185f"/>
<text x="73.78" y="318.1" font-size="22">0</text>
<path d="M127.74 318.1L129.68 318.1L129.68 302.5L128.4 302.5C127.72 304.9 127.28 305.23 124.29 305.6L124.29 306.99L127.74 306.99Z" fill="#000"/>
<text x="170.31" y="318.1" font-size="22">2</text>
<text x="218.57" y="318.1" font-size="22">3</text>
<text x="266.83" y="318.1" font-size="22">4</text>
<text x="315.1" y="318.1" font-size="22">5</text>
<text x="363.36" y="318.1" font-size="22">6</text>
<text x="411.62" y="318.1" font-size="22">7</text>
<text x="459.88" y="318.1" font-size="22">8</text>
<path d="M70.17 20L72.1 20L72.1 4.4L70.83 4.4C70.14 6.8 69.7 7.13 66.71 7.5L66.71 8.89L70.17 8.89Z" fill="#000"/>
<text x="45.92" y="163" font-size="22">0.5</text>
<text x="64.27" y="303.2" font-size="22">0</text>
<text x="21" y="19" text-anchor="middle" font-size="22" fill="#000"  >(a)</text>
<text x="281.6" y="343.6" text-anchor="middle" font-size="22" fill="#000" font-style="italic" >time[1/J]</text>
<text transform="translate(28.7,152.6) rotate(-90)" text-anchor="middle" font-size="22">spin population</text>
<ellipse cx="400.6" cy="38.4" rx="3.45" ry="4.5" transform="rotate(28 400.6 38.4)" fill="none" stroke="#d9431c" stroke-width="1.45"/>
<path d="M401.7 33.8H407.8" fill="none" stroke="#d9431c" stroke-width="1.55"/>
<path d="M415.9 35.2h15M415.9 39.6h15M438.9 37.4h14.4M446.1 30.1v14.6" fill="none" stroke="#d9431c" stroke-width="1.15"/>
<ellipse cx="400.6" cy="274.9" rx="3.45" ry="4.5" transform="rotate(28 400.6 274.9)" fill="none" stroke="#22387f" stroke-width="1.45"/>
<path d="M401.7 270.3H407.8" fill="none" stroke="#22387f" stroke-width="1.55"/>
<path d="M415.9 271.7h15M415.9 276.1h15M439.6 273.9h13.4" fill="none" stroke="#22387f" stroke-width="1.15"/>
<rect x="82.1" y="370.6" width="387.8" height="235.2" fill="none" stroke="#4a4a4a" stroke-width="0.75"/>
<path d="M82.1 605.8v-3.9M82.1 370.6v3.9M159.66 605.8v-3.9M159.66 370.6v3.9M237.22 605.8v-3.9M237.22 370.6v3.9M314.78 605.8v-3.9M314.78 370.6v3.9M392.34 605.8v-3.9M392.34 370.6v3.9M469.9 605.8v-3.9M469.9 370.6v3.9M82.1 605.8h3.9M469.9 605.8h-3.9M82.1 498.85h3.9M469.9 498.85h-3.9M82.1 391.9h3.9M469.9 391.9h-3.9" fill="none" stroke="#4a4a4a" stroke-width="0.75"/>
<path d="M82.1 391.9L91.79 391.9L101.49 391.9L111.19 391.9L120.88 391.9L130.57 404.52L140.27 437.46L149.96 475.75L159.66 506.98L169.35 506.98L179.05 506.98L188.75 506.98L198.44 506.98L208.13 475.75L217.83 437.46L227.52 404.52L237.22 391.9L246.91 391.9L256.61 391.9L266.3 391.9L276 391.9L285.69 404.52L295.39 437.46L305.09 475.75L314.78 506.98L324.47 506.98L334.17 506.98L343.87 506.98L353.56 506.98L363.25 475.75L372.95 437.46L382.64 404.52L392.34 391.9L402.03 391.9L411.73 391.9L421.42 391.9L431.12 391.9L440.81 404.52L450.51 437.46L460.21 475.75L469.9 506.98" fill="none" stroke="#ff0000" stroke-width="0.65" stroke-opacity="1" stroke-linejoin="round"/>
<path d="M82.1 605.8L91.79 605.8L101.49 605.8L111.19 605.8L120.88 605.8L130.57 593.18L140.27 560.24L149.96 521.95L159.66 490.72L169.35 490.72L179.05 490.72L188.75 490.72L198.44 490.72L208.13 521.95L217.83 560.24L227.52 593.18L237.22 605.8L246.91 605.8L256.61 605.8L266.3 605.8L276 605.8L285.69 593.18L295.39 560.24L305.09 521.95L314.78 490.72L324.47 490.72L334.17 490.72L343.87 490.72L353.56 490.72L363.25 521.95L372.95 560.24L382.64 593.18L392.34 605.8L402.03 605.8L411.73 605.8L421.42 605.8L431.12 605.8L440.81 593.18L450.51 560.24L460.21 521.95L469.9 490.72" fill="none" stroke="#0000ff" stroke-width="0.65" stroke-opacity="1" stroke-linejoin="round"/>
<path d="M80 391.9a2.1 2.1 0 1 0 4.2 0a2.1 2.1 0 1 0 -4.2 0zM89.69 391.9a2.1 2.1 0 1 0 4.2 0a2.1 2.1 0 1 0 -4.2 0zM99.39 391.9a2.1 2.1 0 1 0 4.2 0a2.1 2.1 0 1 0 -4.2 0zM109.09 391.9a2.1 2.1 0 1 0 4.2 0a2.1 2.1 0 1 0 -4.2 0zM118.78 391.9a2.1 2.1 0 1 0 4.2 0a2.1 2.1 0 1 0 -4.2 0zM128.47 404.52a2.1 2.1 0 1 0 4.2 0a2.1 2.1 0 1 0 -4.2 0zM138.17 437.46a2.1 2.1 0 1 0 4.2 0a2.1 2.1 0 1 0 -4.2 0zM147.86 475.75a2.1 2.1 0 1 0 4.2 0a2.1 2.1 0 1 0 -4.2 0zM157.56 506.98a2.1 2.1 0 1 0 4.2 0a2.1 2.1 0 1 0 -4.2 0zM167.25 506.98a2.1 2.1 0 1 0 4.2 0a2.1 2.1 0 1 0 -4.2 0zM176.95 506.98a2.1 2.1 0 1 0 4.2 0a2.1 2.1 0 1 0 -4.2 0zM186.65 506.98a2.1 2.1 0 1 0 4.2 0a2.1 2.1 0 1 0 -4.2 0zM196.34 506.98a2.1 2.1 0 1 0 4.2 0a2.1 2.1 0 1 0 -4.2 0zM206.03 475.75a2.1 2.1 0 1 0 4.2 0a2.1 2.1 0 1 0 -4.2 0zM215.73 437.46a2.1 2.1 0 1 0 4.2 0a2.1 2.1 0 1 0 -4.2 0zM225.42 404.52a2.1 2.1 0 1 0 4.2 0a2.1 2.1 0 1 0 -4.2 0zM235.12 391.9a2.1 2.1 0 1 0 4.2 0a2.1 2.1 0 1 0 -4.2 0zM244.81 391.9a2.1 2.1 0 1 0 4.2 0a2.1 2.1 0 1 0 -4.2 0zM254.51 391.9a2.1 2.1 0 1 0 4.2 0a2.1 2.1 0 1 0 -4.2 0zM264.2 391.9a2.1 2.1 0 1 0 4.2 0a2.1 2.1 0 1 0 -4.2 0zM273.9 391.9a2.1 2.1 0 1 0 4.2 0a2.1 2.1 0 1 0 -4.2 0zM283.59 404.52a2.1 2.1 0 1 0 4.2 0a2.1 2.1 0 1 0 -4.2 0zM293.29 437.46a2.1 2.1 0 1 0 4.2 0a2.1 2.1 0 1 0 -4.2 0zM302.99 475.75a2.1 2.1 0 1 0 4.2 0a2.1 2.1 0 1 0 -4.2 0zM312.68 506.98a2.1 2.1 0 1 0 4.2 0a2.1 2.1 0 1 0 -4.2 0zM322.37 506.98a2.1 2.1 0 1 0 4.2 0a2.1 2.1 0 1 0 -4.2 0zM332.07 506.98a2.1 2.1 0 1 0 4.2 0a2.1 2.1 0 1 0 -4.2 0zM341.76 506.98a2.1 2.1 0 1 0 4.2 0a2.1 2.1 0 1 0 -4.2 0zM351.46 506.98a2.1 2.1 0 1 0 4.2 0a2.1 2.1 0 1 0 -4.2 0zM361.15 475.75a2.1 2.1 0 1 0 4.2 0a2.1 2.1 0 1 0 -4.2 0zM370.85 437.46a2.1 2.1 0 1 0 4.2 0a2.1 2.1 0 1 0 -4.2 0zM380.54 404.52a2.1 2.1 0 1 0 4.2 0a2.1 2.1 0 1 0 -4.2 0zM390.24 391.9a2.1 2.1 0 1 0 4.2 0a2.1 2.1 0 1 0 -4.2 0zM399.93 391.9a2.1 2.1 0 1 0 4.2 0a2.1 2.1 0 1 0 -4.2 0zM409.63 391.9a2.1 2.1 0 1 0 4.2 0a2.1 2.1 0 1 0 -4.2 0zM419.32 391.9a2.1 2.1 0 1 0 4.2 0a2.1 2.1 0 1 0 -4.2 0zM429.02 391.9a2.1 2.1 0 1 0 4.2 0a2.1 2.1 0 1 0 -4.2 0zM438.71 404.52a2.1 2.1 0 1 0 4.2 0a2.1 2.1 0 1 0 -4.2 0zM448.41 437.46a2.1 2.1 0 1 0 4.2 0a2.1 2.1 0 1 0 -4.2 0zM458.11 475.75a2.1 2.1 0 1 0 4.2 0a2.1 2.1 0 1 0 -4.2 0zM467.8 506.98a2.1 2.1 0 1 0 4.2 0a2.1 2.1 0 1 0 -4.2 0z" fill="#de3208"/>
<path d="M80 605.8a2.1 2.1 0 1 0 4.2 0a2.1 2.1 0 1 0 -4.2 0zM89.69 605.8a2.1 2.1 0 1 0 4.2 0a2.1 2.1 0 1 0 -4.2 0zM99.39 605.8a2.1 2.1 0 1 0 4.2 0a2.1 2.1 0 1 0 -4.2 0zM109.09 605.8a2.1 2.1 0 1 0 4.2 0a2.1 2.1 0 1 0 -4.2 0zM118.78 605.8a2.1 2.1 0 1 0 4.2 0a2.1 2.1 0 1 0 -4.2 0zM128.47 593.18a2.1 2.1 0 1 0 4.2 0a2.1 2.1 0 1 0 -4.2 0zM138.17 560.24a2.1 2.1 0 1 0 4.2 0a2.1 2.1 0 1 0 -4.2 0zM147.86 521.95a2.1 2.1 0 1 0 4.2 0a2.1 2.1 0 1 0 -4.2 0zM157.56 490.72a2.1 2.1 0 1 0 4.2 0a2.1 2.1 0 1 0 -4.2 0zM167.25 490.72a2.1 2.1 0 1 0 4.2 0a2.1 2.1 0 1 0 -4.2 0zM176.95 490.72a2.1 2.1 0 1 0 4.2 0a2.1 2.1 0 1 0 -4.2 0zM186.65 490.72a2.1 2.1 0 1 0 4.2 0a2.1 2.1 0 1 0 -4.2 0zM196.34 490.72a2.1 2.1 0 1 0 4.2 0a2.1 2.1 0 1 0 -4.2 0zM206.03 521.95a2.1 2.1 0 1 0 4.2 0a2.1 2.1 0 1 0 -4.2 0zM215.73 560.24a2.1 2.1 0 1 0 4.2 0a2.1 2.1 0 1 0 -4.2 0zM225.42 593.18a2.1 2.1 0 1 0 4.2 0a2.1 2.1 0 1 0 -4.2 0zM235.12 605.8a2.1 2.1 0 1 0 4.2 0a2.1 2.1 0 1 0 -4.2 0zM244.81 605.8a2.1 2.1 0 1 0 4.2 0a2.1 2.1 0 1 0 -4.2 0zM254.51 605.8a2.1 2.1 0 1 0 4.2 0a2.1 2.1 0 1 0 -4.2 0zM264.2 605.8a2.1 2.1 0 1 0 4.2 0a2.1 2.1 0 1 0 -4.2 0zM273.9 605.8a2.1 2.1 0 1 0 4.2 0a2.1 2.1 0 1 0 -4.2 0zM283.59 593.18a2.1 2.1 0 1 0 4.2 0a2.1 2.1 0 1 0 -4.2 0zM293.29 560.24a2.1 2.1 0 1 0 4.2 0a2.1 2.1 0 1 0 -4.2 0zM302.99 521.95a2.1 2.1 0 1 0 4.2 0a2.1 2.1 0 1 0 -4.2 0zM312.68 490.72a2.1 2.1 0 1 0 4.2 0a2.1 2.1 0 1 0 -4.2 0zM322.37 490.72a2.1 2.1 0 1 0 4.2 0a2.1 2.1 0 1 0 -4.2 0zM332.07 490.72a2.1 2.1 0 1 0 4.2 0a2.1 2.1 0 1 0 -4.2 0zM341.76 490.72a2.1 2.1 0 1 0 4.2 0a2.1 2.1 0 1 0 -4.2 0zM351.46 490.72a2.1 2.1 0 1 0 4.2 0a2.1 2.1 0 1 0 -4.2 0zM361.15 521.95a2.1 2.1 0 1 0 4.2 0a2.1 2.1 0 1 0 -4.2 0zM370.85 560.24a2.1 2.1 0 1 0 4.2 0a2.1 2.1 0 1 0 -4.2 0zM380.54 593.18a2.1 2.1 0 1 0 4.2 0a2.1 2.1 0 1 0 -4.2 0zM390.24 605.8a2.1 2.1 0 1 0 4.2 0a2.1 2.1 0 1 0 -4.2 0zM399.93 605.8a2.1 2.1 0 1 0 4.2 0a2.1 2.1 0 1 0 -4.2 0zM409.63 605.8a2.1 2.1 0 1 0 4.2 0a2.1 2.1 0 1 0 -4.2 0zM419.32 605.8a2.1 2.1 0 1 0 4.2 0a2.1 2.1 0 1 0 -4.2 0zM429.02 605.8a2.1 2.1 0 1 0 4.2 0a2.1 2.1 0 1 0 -4.2 0zM438.71 593.18a2.1 2.1 0 1 0 4.2 0a2.1 2.1 0 1 0 -4.2 0zM448.41 560.24a2.1 2.1 0 1 0 4.2 0a2.1 2.1 0 1 0 -4.2 0zM458.11 521.95a2.1 2.1 0 1 0 4.2 0a2.1 2.1 0 1 0 -4.2 0zM467.8 490.72a2.1 2.1 0 1 0 4.2 0a2.1 2.1 0 1 0 -4.2 0z" fill="#08185f"/>
<text x="75.98" y="635" font-size="22">0</text>
<text x="138.25" y="635" font-size="22">0.05</text>
<text x="221.93" y="635" font-size="22">0.</text>
<path d="M245.98 635L247.91 635L247.91 619.4L246.64 619.4C245.95 621.8 245.51 622.13 242.52 622.5L242.52 623.89L245.98 623.89Z" fill="#000"/>
<text x="293.37" y="635" font-size="22">0.</text>
<path d="M317.42 635L319.36 635L319.36 619.4L318.08 619.4C317.4 621.8 316.96 622.13 313.97 622.5L313.97 623.89L317.42 623.89Z" fill="#000"/>
<text x="323.95" y="635" font-size="22">5</text>
<text x="377.05" y="635" font-size="22">0.2</text>
<text x="448.49" y="635" font-size="22">0.25</text>
<path d="M70.17 398.8L72.1 398.8L72.1 383.2L70.83 383.2C70.14 385.6 69.7 385.93 66.71 386.3L66.71 387.69L70.17 387.69Z" fill="#000"/>
<text x="46.02" y="507.7" font-size="22">0.5</text>
<text x="64.37" y="613" font-size="22">0</text>
<text x="21" y="375.6" text-anchor="middle" font-size="22" fill="#000"  >(b)</text>
<text x="281.6" y="663.6" text-anchor="middle" font-size="22" fill="#000" font-style="italic" >time[1/J]</text>
<text transform="translate(28.7,492.8) rotate(-90)" text-anchor="middle" font-size="22">spin population</text>
<ellipse cx="146.4" cy="417.3" rx="3.45" ry="4.5" transform="rotate(28 146.4 417.3)" fill="none" stroke="#d9431c" stroke-width="1.45"/>
<path d="M147.5 412.7H153.6" fill="none" stroke="#d9431c" stroke-width="1.55"/>
<path d="M161.7 414.1h15M161.7 418.5h15M184.7 416.3h14.4M191.9 409v14.6" fill="none" stroke="#d9431c" stroke-width="1.15"/>
<ellipse cx="146.4" cy="577.6" rx="3.45" ry="4.5" transform="rotate(28 146.4 577.6)" fill="none" stroke="#22387f" stroke-width="1.45"/>
<path d="M147.5 573H153.6" fill="none" stroke="#22387f" stroke-width="1.55"/>
<path d="M161.7 574.4h15M161.7 578.8h15M185.4 576.6h13.4" fill="none" stroke="#22387f" stroke-width="1.15"/>
<rect x="81.05" y="686.2" width="385.55" height="283.1" fill="none" stroke="#4a4a4a" stroke-width="0.75"/>
<path d="M81.05 969.3v-3.9M81.05 686.2v3.9M136.13 969.3v-3.9M136.13 686.2v3.9M191.21 969.3v-3.9M191.21 686.2v3.9M246.29 969.3v-3.9M246.29 686.2v3.9M301.36 969.3v-3.9M301.36 686.2v3.9M356.44 969.3v-3.9M356.44 686.2v3.9M411.52 969.3v-3.9M411.52 686.2v3.9M466.6 969.3v-3.9M466.6 686.2v3.9M81.05 686.2h3.9M466.6 686.2h-3.9M81.05 717.66h3.9M466.6 717.66h-3.9M81.05 749.11h3.9M466.6 749.11h-3.9M81.05 780.57h3.9M466.6 780.57h-3.9M81.05 812.02h3.9M466.6 812.02h-3.9M81.05 843.48h3.9M466.6 843.48h-3.9M81.05 874.93h3.9M466.6 874.93h-3.9M81.05 906.39h3.9M466.6 906.39h-3.9M81.05 937.84h3.9M466.6 937.84h-3.9M81.05 969.3h3.9M466.6 969.3h-3.9" fill="none" stroke="#4a4a4a" stroke-width="0.75"/>
<path d="M81.2 717.4L85.57 717.41L89.94 717.44L94.32 717.49L98.69 717.57L103.06 717.66L107.43 717.78L111.81 717.91L116.18 718.07L120.55 718.25L124.92 718.45L129.29 718.67L133.67 718.91L138.04 719.18L142.41 719.46L146.78 719.76L151.15 720.09L155.53 720.44L159.9 720.8L164.27 721.19L168.64 721.6L173.02 722.03L177.39 722.49L181.76 722.96L186.13 723.45L190.5 723.97L194.88 724.5L199.25 725.06L203.62 725.64L207.99 726.24L212.36 726.86L216.74 727.5L221.11 728.16L225.48 728.84L229.85 729.55L234.23 730.27L238.6 731.02L242.97 731.78L247.34 732.57L251.71 733.38L256.09 734.21L260.46 735.06L264.83 735.93L269.2 736.83L273.57 737.74L277.95 738.68L282.32 739.63L286.69 740.61L291.06 741.61L295.44 742.63L299.81 743.67L304.18 744.73L308.55 745.81L312.92 746.91L317.3 748.04L321.67 749.18L326.04 750.35L330.41 751.54L334.78 752.75L339.16 753.97L343.53 755.22L347.9 756.5L352.27 757.79L356.65 759.1L361.02 760.44L365.39 761.79L369.76 763.17L374.13 764.57L378.51 765.98L382.88 767.42L387.25 768.88L391.62 770.37L395.99 771.87L400.37 773.39L404.74 774.94L409.11 776.5L413.48 778.09L417.86 779.7L422.23 781.32L426.6 782.97" fill="none" stroke="#7a7a7a" stroke-width="1.7" stroke-opacity="1" stroke-linejoin="round"/>
<path d="M81.2 717.4L83.47 717.4Q84.44 717.41 84.75 717.42L85.17 717.43Q85.49 717.44 86.46 717.44L87.75 717.45Q88.72 717.46 89.04 717.49L89.46 717.52Q89.77 717.55 90.74 717.56L92.04 717.57Q93.01 717.58 93.32 717.63L93.74 717.69Q94.06 717.74 95.03 717.75L96.32 717.77Q97.29 717.79 97.61 717.85L98.03 717.94Q98.34 718 99.31 718.02L100.61 718.05Q101.58 718.06 101.89 718.15L102.31 718.26Q102.63 718.34 103.6 718.36L104.89 718.39Q105.87 718.42 106.18 718.52L106.6 718.65Q106.92 718.76 107.89 718.78L109.18 718.82Q110.15 718.85 110.47 718.97L110.89 719.13Q111.2 719.25 112.17 719.28L113.47 719.33Q114.44 719.36 114.75 719.5L115.17 719.69Q115.49 719.83 116.46 719.87L117.75 719.91Q118.72 719.95 119.04 720.11L119.46 720.32Q119.77 720.49 120.74 720.53L122.04 720.58Q123.01 720.62 123.32 720.8L123.74 721.04Q124.06 721.22 125.03 721.26L126.32 721.32Q127.29 721.36 127.61 721.56L128.03 721.83Q128.34 722.03 129.32 722.08L130.61 722.14Q131.58 722.19 131.9 722.41L132.32 722.7Q132.63 722.91 133.6 722.97L134.9 723.04Q135.87 723.09 136.18 723.32L136.6 723.64Q136.92 723.88 137.89 723.93L139.18 724.01Q140.15 724.06 140.47 724.32L140.89 724.66Q141.2 724.92 142.17 724.98L143.47 725.06Q144.44 725.12 144.75 725.39L145.17 725.76Q145.49 726.03 146.46 726.1L147.75 726.18Q148.72 726.25 149.04 726.54L149.46 726.93Q149.77 727.22 150.74 727.29L152.04 727.38Q153.01 727.45 153.32 727.76L153.74 728.18Q154.06 728.49 155.03 728.56L156.32 728.66Q157.3 728.73 157.61 729.06L158.03 729.5Q158.35 729.83 159.32 729.91L160.61 730.01Q161.58 730.09 161.9 730.44L162.32 730.9Q162.63 731.25 163.6 731.33L164.9 731.44Q165.87 731.52 166.18 731.89L166.6 732.38Q166.92 732.74 167.89 732.83L169.18 732.94Q170.15 733.03 170.47 733.41L170.89 733.93Q171.2 734.32 172.17 734.4L173.47 734.52Q174.44 734.61 174.75 735.02L175.17 735.56Q175.49 735.96 176.46 736.06L177.75 736.18Q178.73 736.27 179.04 736.7L179.46 737.26Q179.78 737.69 180.75 737.78L182.04 737.91Q183.01 738.01 183.33 738.45L183.75 739.05Q184.06 739.49 185.03 739.59L186.33 739.73Q187.3 739.83 187.61 740.29L188.03 740.9Q188.35 741.37 189.32 741.47L190.61 741.61Q191.58 741.72 191.9 742.2L192.32 742.84Q192.63 743.32 193.6 743.43L194.9 743.58Q195.87 743.69 196.18 744.19L196.6 744.86Q196.92 745.36 197.89 745.47L199.18 745.62Q200.15 745.74 200.47 746.26L200.89 746.95Q201.2 747.47 202.18 747.58L203.47 747.74Q204.44 747.86 204.76 748.4L205.18 749.12Q205.49 749.65 206.46 749.78L207.76 749.94Q208.73 750.06 209.04 750.62L209.46 751.36Q209.78 751.92 210.75 752.04L212.04 752.21Q213.01 752.34 213.33 752.91L213.75 753.68Q214.06 754.25 215.03 754.38L216.33 754.55Q217.3 754.69 217.61 755.28L218.03 756.07Q218.35 756.66 219.32 756.79L220.61 756.97Q221.58 757.11 221.9 757.72L222.32 758.53Q222.63 759.14 223.6 759.28L224.9 759.46Q225.87 759.6 226.18 760.22L226.6 761.06Q226.92 761.69 227.89 761.83L229.18 762.02Q230.16 762.16 230.47 762.8L230.89 763.66Q231.21 764.3 232.18 764.44L233.47 764.64Q234.44 764.78 234.76 765.44L235.18 766.32Q235.49 766.97 236.46 767.12L237.76 767.32Q238.73 767.47 239.04 768.14L239.46 769.04Q239.78 769.71 240.75 769.86L242.04 770.06Q243.01 770.21 243.33 770.9L243.75 771.81Q244.06 772.5 245.03 772.65L246.33 772.86Q247.3 773.01 247.61 773.71L248.03 774.65Q248.35 775.35 249.32 775.5L250.61 775.71Q251.58 775.87 251.9 776.58L252.32 777.53Q252.63 778.25 253.61 778.4L254.9 778.62Q255.87 778.78 256.19 779.5L256.61 780.47Q256.92 781.2 257.89 781.36L259.19 781.57Q260.16 781.74 260.47 782.47L260.89 783.46Q261.21 784.2 262.18 784.36L263.47 784.58Q264.44 784.74 264.76 785.49L265.18 786.49Q265.49 787.24 266.46 787.41L267.76 787.64Q268.73 787.8 269.04 788.56L269.46 789.58Q269.78 790.34 270.75 790.51L272.04 790.74Q273.01 790.91 273.33 791.69L273.75 792.72Q274.06 793.49 275.04 793.67L276.33 793.9Q277.3 794.07 277.62 794.86L278.04 795.91Q278.35 796.69 279.32 796.87L280.62 797.1Q281.59 797.28 281.9 798.08L282.32 799.15Q282.64 799.95 283.61 800.12L284.9 800.36Q285.87 800.54 286.19 801.35L286.61 802.44Q286.92 803.25 287.89 803.43L289.19 803.67Q290.16 803.86 290.47 804.68L290.89 805.79Q291.21 806.61 292.18 806.8L293.47 807.04Q294.44 807.23 294.76 808.07L295.18 809.19Q295.49 810.03 296.46 810.22L297.76 810.47Q298.73 810.66 299.04 811.51L299.46 812.65Q299.78 813.5 300.75 813.7L302.04 813.95Q303.02 814.14 303.33 815.01L303.75 816.17Q304.07 817.04 305.04 817.23L306.33 817.49Q307.3 817.68 307.62 818.57L308.04 819.74Q308.35 820.63 309.32 820.82L310.62 821.09Q311.59 821.28 311.9 822.18L312.32 823.38Q312.64 824.28 313.61 824.48L314.9 824.74Q315.87 824.94 316.19 825.85L316.61 827.07Q316.92 827.98 317.89 828.18L319.19 828.45Q320.16 828.66 320.47 829.58L320.89 830.82Q321.21 831.74 322.18 831.95L323.47 832.22Q324.44 832.43 324.76 833.37L325.18 834.62Q325.49 835.56 326.47 835.77L327.76 836.05Q328.73 836.26 329.05 837.21L329.47 838.48Q329.78 839.43 330.75 839.64L332.05 839.92Q333.02 840.13 333.33 841.1L333.75 842.39Q334.07 843.35 335.04 843.56L336.33 843.85Q337.3 844.07 337.62 845.04L338.04 846.34Q338.35 847.32 339.32 847.54L340.62 847.83Q341.59 848.04 341.9 849.03L342.32 850.35Q342.64 851.34 343.61 851.56L344.9 851.85Q345.87 852.07 346.19 853.07L346.61 854.4Q346.92 855.4 347.9 855.63L349.19 855.92Q350.16 856.14 350.48 857.15L350.9 858.5Q351.21 859.51 352.18 859.74L353.48 860.04Q354.45 860.26 354.76 861.28L355.18 862.64Q355.5 863.66 356.47 863.89L357.76 864.19Q358.73 864.42 359.05 865.45L359.47 866.82Q359.78 867.85 360.75 868.08L362.05 868.38Q363.02 868.61 363.33 869.65L363.75 871.04Q364.07 872.08 365.04 872.31L366.33 872.61Q367.3 872.84 367.62 873.89L368.04 875.29Q368.35 876.34 369.32 876.57L370.62 876.88Q371.59 877.11 371.9 878.17L372.32 879.58Q372.64 880.63 373.61 880.87L374.9 881.18Q375.88 881.41 376.19 882.48L376.61 883.89Q376.93 884.96 377.9 885.19L379.19 885.51Q380.16 885.74 380.48 886.81L380.9 888.24Q381.21 889.31 382.18 889.55L383.48 889.87Q384.45 890.1 384.76 891.18L385.18 892.62Q385.5 893.69 386.47 893.93L387.76 894.25Q388.73 894.49 389.05 895.57L389.47 897.02Q389.78 898.1 390.75 898.34L392.05 898.66Q393.02 898.9 393.33 899.99L393.75 901.44Q394.07 902.53 395.04 902.77L396.33 903.09Q397.3 903.33 397.62 904.43L398.04 905.89Q398.35 906.98 399.33 907.22L400.62 907.55Q401.59 907.79 401.91 908.89L402.33 910.35Q402.64 911.45 403.61 911.69L404.91 912.02Q405.88 912.26 406.19 913.36L406.61 914.83Q406.93 915.94 407.9 916.18L409.19 916.5Q410.16 916.75 410.48 917.85L410.9 919.33Q411.21 920.44 412.18 920.68L413.48 921.01Q414.45 921.25 414.76 922.36L415.18 923.84Q415.5 924.95 416.47 925.19L417.76 925.52Q418.73 925.76 419.05 926.88L419.47 928.36Q419.78 929.47 420.75 929.71L422.05 930.04Q423.02 930.29 423.33 931.4L424.07 934" fill="none" stroke="#7d0cf4" stroke-width="1.9" stroke-linejoin="round"/>
<path d="M81.2 717.4L83.47 717.41Q84.45 717.41 84.76 717.42L85.18 717.43Q85.5 717.44 86.47 717.44L87.77 717.45Q88.74 717.46 89.06 717.49L89.48 717.52Q89.8 717.55 90.77 717.56L92.07 717.58Q93.04 717.59 93.36 717.63L93.78 717.69Q94.09 717.74 95.07 717.76L96.37 717.77Q97.34 717.79 97.66 717.85L98.08 717.94Q98.39 718.01 99.37 718.03L100.66 718.05Q101.64 718.07 101.95 718.15L102.38 718.26Q102.69 718.35 103.66 718.37L104.96 718.4Q105.94 718.42 106.25 718.52L106.67 718.66Q106.99 718.76 107.96 718.79L109.26 718.83Q110.23 718.86 110.55 718.98L110.97 719.15Q111.29 719.27 112.26 719.3L113.56 719.35Q114.53 719.38 114.85 719.53L115.27 719.72Q115.59 719.87 116.56 719.91L117.86 719.96Q118.83 719.99 119.15 720.16L119.57 720.38Q119.88 720.55 120.86 720.59L122.16 720.65Q123.13 720.69 123.45 720.87L123.87 721.12Q124.18 721.31 125.16 721.36L126.45 721.42Q127.43 721.46 127.74 721.67L128.16 721.94Q128.48 722.15 129.45 722.2L130.75 722.27Q131.73 722.32 132.04 722.54L132.46 722.85Q132.78 723.07 133.75 723.13L135.05 723.2Q136.02 723.25 136.34 723.5L136.76 723.83Q137.08 724.07 138.05 724.13L139.35 724.21Q140.32 724.27 140.64 724.53L141.06 724.89Q141.38 725.15 142.35 725.21L143.65 725.3Q144.62 725.36 144.94 725.64L145.36 726.02Q145.67 726.31 146.65 726.38L147.95 726.46Q148.92 726.53 149.23 726.84L149.66 727.24Q149.97 727.55 150.95 727.62L152.24 727.71Q153.22 727.78 153.53 728.11L153.95 728.54Q154.27 728.86 155.24 728.94L156.54 729.04Q157.52 729.11 157.83 729.45L158.25 729.91Q158.57 730.25 159.54 730.33L160.84 730.44Q161.81 730.52 162.13 730.88L162.55 731.36Q162.87 731.72 163.84 731.81L165.14 731.92Q166.11 732 166.43 732.38L166.85 732.89Q167.17 733.27 168.14 733.36L169.44 733.48Q170.41 733.56 170.73 733.96L171.15 734.5Q171.46 734.9 172.44 734.99L173.73 735.11Q174.71 735.2 175.02 735.62L175.45 736.18Q175.76 736.6 176.74 736.7L178.03 736.82Q179.01 736.92 179.32 737.36L179.74 737.94Q180.06 738.38 181.03 738.48L182.33 738.61Q183.3 738.71 183.62 739.17L184.04 739.78Q184.36 740.23 185.33 740.34L186.63 740.48Q187.6 740.58 187.92 741.06L188.34 741.69Q188.66 742.16 189.63 742.27L190.93 742.42Q191.9 742.52 192.22 743.02L192.64 743.68Q192.95 744.17 193.93 744.28L195.23 744.43Q196.2 744.55 196.52 745.06L196.94 745.74Q197.25 746.25 198.23 746.37L199.52 746.52Q200.5 746.64 200.81 747.17L201.24 747.88Q201.55 748.41 202.52 748.53L203.82 748.69Q204.8 748.81 205.11 749.36L205.53 750.09Q205.85 750.64 206.82 750.77L208.12 750.93Q209.09 751.06 209.41 751.62L209.83 752.38Q210.15 752.95 211.12 753.08L212.42 753.25Q213.39 753.38 213.71 753.96L214.13 754.74Q214.45 755.33 215.42 755.46L216.72 755.64Q217.69 755.77 218.01 756.38L218.43 757.18Q218.74 757.78 219.72 757.92L221.02 758.1Q221.99 758.24 222.31 758.86L222.73 759.69Q223.04 760.31 224.02 760.45L225.31 760.64Q226.29 760.78 226.6 761.42L227.02 762.27Q227.34 762.91 228.31 763.06L229.61 763.25Q230.59 763.4 230.9 764.05L231.32 764.93Q231.64 765.59 232.61 765.74L233.91 765.93Q234.88 766.08 235.2 766.76L235.62 767.66Q235.94 768.33 236.91 768.49L238.21 768.69Q239.18 768.84 239.5 769.54L239.92 770.46Q240.24 771.15 241.21 771.31L242.51 771.52Q243.48 771.67 243.8 772.38L244.22 773.33Q244.53 774.04 245.51 774.2L246.81 774.41Q247.78 774.57 248.09 775.3L248.52 776.27Q248.83 777 249.81 777.16L251.1 777.38Q252.08 777.55 252.39 778.29L252.81 779.29Q253.13 780.03 254.1 780.2L255.4 780.42Q256.38 780.59 256.69 781.35L257.11 782.37Q257.43 783.13 258.4 783.3L259.7 783.53Q260.67 783.7 260.99 784.48L261.41 785.52Q261.73 786.3 262.7 786.47L264 786.71Q264.97 786.88 265.29 787.68L265.71 788.74Q266.02 789.53 267 789.71L268.3 789.95Q269.27 790.13 269.59 790.94L270.01 792.02Q270.32 792.84 271.3 793.02L272.59 793.26Q273.57 793.44 273.88 794.27L274.31 795.38Q274.62 796.21 275.59 796.39L276.89 796.64Q277.87 796.82 278.18 797.67L278.6 798.8Q278.92 799.64 279.89 799.83L281.19 800.08Q282.16 800.27 282.48 801.13L282.9 802.28Q283.22 803.14 284.19 803.33L285.49 803.59Q286.46 803.78 286.78 804.66L287.2 805.83Q287.52 806.7 288.49 806.9L289.79 807.16Q290.76 807.36 291.08 808.25L291.5 809.44Q291.81 810.33 292.79 810.53L294.09 810.79Q295.06 810.99 295.38 811.9L295.8 813.11Q296.11 814.02 297.09 814.22L298.38 814.49Q299.36 814.69 299.67 815.61L300.09 816.84Q300.41 817.77 301.38 817.97L302.68 818.24Q303.66 818.45 303.97 819.39L304.39 820.64Q304.71 821.57 305.68 821.78L306.98 822.06Q307.95 822.27 308.27 823.22L308.69 824.49Q309.01 825.44 309.98 825.65L311.28 825.93Q312.25 826.14 312.57 827.11L312.99 828.39Q313.31 829.36 314.28 829.57L315.58 829.86Q316.55 830.08 316.87 831.05L317.29 832.36Q317.6 833.34 318.58 833.55L319.88 833.84Q320.85 834.06 321.16 835.05L321.59 836.38Q321.9 837.37 322.88 837.59L324.17 837.88Q325.15 838.1 325.46 839.11L325.88 840.45Q326.2 841.45 327.17 841.67L328.47 841.97Q329.45 842.2 329.76 843.21L330.18 844.57Q330.5 845.59 331.47 845.81L332.77 846.11Q333.74 846.34 334.06 847.37L334.48 848.74Q334.8 849.77 335.77 850L337.07 850.3Q338.04 850.53 338.36 851.57L338.78 852.96Q339.09 854 340.07 854.23L341.37 854.54Q342.34 854.77 342.66 855.82L343.08 857.22Q343.39 858.27 344.37 858.51L345.66 858.82Q346.64 859.05 346.95 860.11L347.38 861.53Q347.69 862.59 348.67 862.83L349.96 863.14Q350.94 863.38 351.25 864.45L351.67 865.88Q351.99 866.95 352.96 867.19L354.26 867.51Q355.23 867.74 355.55 868.83L355.97 870.27Q356.29 871.35 357.26 871.59L358.56 871.91Q359.53 872.15 359.85 873.24L360.27 874.7Q360.59 875.79 361.56 876.03L362.86 876.35Q363.83 876.59 364.15 877.69L364.57 879.16Q364.88 880.26 365.86 880.5L367.16 880.83Q368.13 881.07 368.45 882.18L368.87 883.65Q369.18 884.76 370.16 885.01L371.45 885.33Q372.43 885.58 372.74 886.69L373.17 888.18Q373.48 889.29 374.45 889.54L375.75 889.87Q376.73 890.11 377.04 891.24L377.46 892.73Q377.78 893.85 378.75 894.1L380.05 894.43Q381.02 894.68 381.34 895.81L381.76 897.31Q382.08 898.44 383.05 898.69L384.35 899.02Q385.32 899.27 385.64 900.4L386.06 901.91Q386.38 903.04 387.35 903.29L388.65 903.63Q389.62 903.88 389.94 905.01L390.36 906.53Q390.67 907.67 391.65 907.92L392.95 908.25Q393.92 908.5 394.24 909.65L394.66 911.17Q394.97 912.31 395.95 912.56L397.24 912.9Q398.22 913.15 398.53 914.29L398.95 915.82Q399.27 916.96 400.24 917.21L401.54 917.55Q402.52 917.8 402.83 918.95L403.25 920.48Q403.57 921.63 404.54 921.88L405.84 922.21Q406.81 922.47 407.13 923.61L407.55 925.15Q407.87 926.29 408.84 926.55L410.14 926.88Q411.11 927.13 411.43 928.28L411.85 929.82Q412.17 930.96 413.14 931.22L414.44 931.55Q415.41 931.81 415.73 932.95L416.15 934.49Q416.46 935.63 417.44 935.89L418.74 936.22Q419.71 936.47 420.02 937.62L420.45 939.15Q420.76 940.3 421.74 940.55L423.03 940.89Q424.01 941.14 424.32 942.28L425.06 944.96" fill="none" stroke="#815a78" stroke-width="1.9" stroke-linejoin="round"/>
<path d="M79.7 717.4a1.5 1.5 0 1 0 3.0 0a1.5 1.5 0 1 0 -3.0 0zM82.95 717.41a1.5 1.5 0 1 0 3.0 0a1.5 1.5 0 1 0 -3.0 0zM84 717.44a1.5 1.5 0 1 0 3.0 0a1.5 1.5 0 1 0 -3.0 0zM87.24 717.46a1.5 1.5 0 1 0 3.0 0a1.5 1.5 0 1 0 -3.0 0zM88.3 717.55a1.5 1.5 0 1 0 3.0 0a1.5 1.5 0 1 0 -3.0 0zM91.54 717.59a1.5 1.5 0 1 0 3.0 0a1.5 1.5 0 1 0 -3.0 0zM92.59 717.74a1.5 1.5 0 1 0 3.0 0a1.5 1.5 0 1 0 -3.0 0zM95.84 717.79a1.5 1.5 0 1 0 3.0 0a1.5 1.5 0 1 0 -3.0 0zM96.89 718.01a1.5 1.5 0 1 0 3.0 0a1.5 1.5 0 1 0 -3.0 0zM100.14 718.07a1.5 1.5 0 1 0 3.0 0a1.5 1.5 0 1 0 -3.0 0zM101.19 718.35a1.5 1.5 0 1 0 3.0 0a1.5 1.5 0 1 0 -3.0 0zM104.44 718.42a1.5 1.5 0 1 0 3.0 0a1.5 1.5 0 1 0 -3.0 0zM105.49 718.76a1.5 1.5 0 1 0 3.0 0a1.5 1.5 0 1 0 -3.0 0zM108.73 718.85a1.5 1.5 0 1 0 3.0 0a1.5 1.5 0 1 0 -3.0 0zM109.79 719.26a1.5 1.5 0 1 0 3.0 0a1.5 1.5 0 1 0 -3.0 0zM113.03 719.36a1.5 1.5 0 1 0 3.0 0a1.5 1.5 0 1 0 -3.0 0zM114.09 719.82a1.5 1.5 0 1 0 3.0 0a1.5 1.5 0 1 0 -3.0 0zM117.33 719.94a1.5 1.5 0 1 0 3.0 0a1.5 1.5 0 1 0 -3.0 0zM118.38 720.46a1.5 1.5 0 1 0 3.0 0a1.5 1.5 0 1 0 -3.0 0zM121.63 720.59a1.5 1.5 0 1 0 3.0 0a1.5 1.5 0 1 0 -3.0 0zM122.68 721.18a1.5 1.5 0 1 0 3.0 0a1.5 1.5 0 1 0 -3.0 0zM125.93 721.32a1.5 1.5 0 1 0 3.0 0a1.5 1.5 0 1 0 -3.0 0zM126.98 721.97a1.5 1.5 0 1 0 3.0 0a1.5 1.5 0 1 0 -3.0 0zM130.23 722.12a1.5 1.5 0 1 0 3.0 0a1.5 1.5 0 1 0 -3.0 0zM131.28 722.83a1.5 1.5 0 1 0 3.0 0a1.5 1.5 0 1 0 -3.0 0zM134.52 723a1.5 1.5 0 1 0 3.0 0a1.5 1.5 0 1 0 -3.0 0zM135.58 723.77a1.5 1.5 0 1 0 3.0 0a1.5 1.5 0 1 0 -3.0 0zM138.82 723.95a1.5 1.5 0 1 0 3.0 0a1.5 1.5 0 1 0 -3.0 0zM139.88 724.78a1.5 1.5 0 1 0 3.0 0a1.5 1.5 0 1 0 -3.0 0zM143.12 724.98a1.5 1.5 0 1 0 3.0 0a1.5 1.5 0 1 0 -3.0 0zM144.17 725.87a1.5 1.5 0 1 0 3.0 0a1.5 1.5 0 1 0 -3.0 0zM147.42 726.08a1.5 1.5 0 1 0 3.0 0a1.5 1.5 0 1 0 -3.0 0zM148.47 727.03a1.5 1.5 0 1 0 3.0 0a1.5 1.5 0 1 0 -3.0 0zM151.72 727.25a1.5 1.5 0 1 0 3.0 0a1.5 1.5 0 1 0 -3.0 0zM152.77 728.26a1.5 1.5 0 1 0 3.0 0a1.5 1.5 0 1 0 -3.0 0zM156.02 728.49a1.5 1.5 0 1 0 3.0 0a1.5 1.5 0 1 0 -3.0 0zM157.07 729.56a1.5 1.5 0 1 0 3.0 0a1.5 1.5 0 1 0 -3.0 0zM160.31 729.81a1.5 1.5 0 1 0 3.0 0a1.5 1.5 0 1 0 -3.0 0zM161.37 730.93a1.5 1.5 0 1 0 3.0 0a1.5 1.5 0 1 0 -3.0 0zM164.61 731.2a1.5 1.5 0 1 0 3.0 0a1.5 1.5 0 1 0 -3.0 0zM165.67 732.38a1.5 1.5 0 1 0 3.0 0a1.5 1.5 0 1 0 -3.0 0zM168.91 732.65a1.5 1.5 0 1 0 3.0 0a1.5 1.5 0 1 0 -3.0 0zM169.96 733.9a1.5 1.5 0 1 0 3.0 0a1.5 1.5 0 1 0 -3.0 0zM173.21 734.18a1.5 1.5 0 1 0 3.0 0a1.5 1.5 0 1 0 -3.0 0zM174.26 735.49a1.5 1.5 0 1 0 3.0 0a1.5 1.5 0 1 0 -3.0 0zM177.51 735.79a1.5 1.5 0 1 0 3.0 0a1.5 1.5 0 1 0 -3.0 0zM178.56 737.15a1.5 1.5 0 1 0 3.0 0a1.5 1.5 0 1 0 -3.0 0zM181.8 737.46a1.5 1.5 0 1 0 3.0 0a1.5 1.5 0 1 0 -3.0 0zM182.86 738.87a1.5 1.5 0 1 0 3.0 0a1.5 1.5 0 1 0 -3.0 0zM186.1 739.2a1.5 1.5 0 1 0 3.0 0a1.5 1.5 0 1 0 -3.0 0zM187.16 740.67a1.5 1.5 0 1 0 3.0 0a1.5 1.5 0 1 0 -3.0 0zM190.4 741.01a1.5 1.5 0 1 0 3.0 0a1.5 1.5 0 1 0 -3.0 0zM191.45 742.54a1.5 1.5 0 1 0 3.0 0a1.5 1.5 0 1 0 -3.0 0zM194.7 742.89a1.5 1.5 0 1 0 3.0 0a1.5 1.5 0 1 0 -3.0 0zM195.75 744.48a1.5 1.5 0 1 0 3.0 0a1.5 1.5 0 1 0 -3.0 0zM199 744.84a1.5 1.5 0 1 0 3.0 0a1.5 1.5 0 1 0 -3.0 0zM200.05 746.48a1.5 1.5 0 1 0 3.0 0a1.5 1.5 0 1 0 -3.0 0zM203.3 746.85a1.5 1.5 0 1 0 3.0 0a1.5 1.5 0 1 0 -3.0 0zM204.35 748.55a1.5 1.5 0 1 0 3.0 0a1.5 1.5 0 1 0 -3.0 0zM207.59 748.93a1.5 1.5 0 1 0 3.0 0a1.5 1.5 0 1 0 -3.0 0zM208.65 750.69a1.5 1.5 0 1 0 3.0 0a1.5 1.5 0 1 0 -3.0 0zM211.89 751.08a1.5 1.5 0 1 0 3.0 0a1.5 1.5 0 1 0 -3.0 0zM212.95 752.89a1.5 1.5 0 1 0 3.0 0a1.5 1.5 0 1 0 -3.0 0zM216.19 753.3a1.5 1.5 0 1 0 3.0 0a1.5 1.5 0 1 0 -3.0 0zM217.24 755.16a1.5 1.5 0 1 0 3.0 0a1.5 1.5 0 1 0 -3.0 0zM220.49 755.58a1.5 1.5 0 1 0 3.0 0a1.5 1.5 0 1 0 -3.0 0zM221.54 757.5a1.5 1.5 0 1 0 3.0 0a1.5 1.5 0 1 0 -3.0 0zM224.79 757.93a1.5 1.5 0 1 0 3.0 0a1.5 1.5 0 1 0 -3.0 0zM225.84 759.9a1.5 1.5 0 1 0 3.0 0a1.5 1.5 0 1 0 -3.0 0zM229.09 760.34a1.5 1.5 0 1 0 3.0 0a1.5 1.5 0 1 0 -3.0 0zM230.14 762.36a1.5 1.5 0 1 0 3.0 0a1.5 1.5 0 1 0 -3.0 0zM233.38 762.81a1.5 1.5 0 1 0 3.0 0a1.5 1.5 0 1 0 -3.0 0zM234.44 764.89a1.5 1.5 0 1 0 3.0 0a1.5 1.5 0 1 0 -3.0 0zM237.68 765.35a1.5 1.5 0 1 0 3.0 0a1.5 1.5 0 1 0 -3.0 0zM238.74 767.48a1.5 1.5 0 1 0 3.0 0a1.5 1.5 0 1 0 -3.0 0zM241.98 767.95a1.5 1.5 0 1 0 3.0 0a1.5 1.5 0 1 0 -3.0 0zM243.03 770.13a1.5 1.5 0 1 0 3.0 0a1.5 1.5 0 1 0 -3.0 0zM246.28 770.62a1.5 1.5 0 1 0 3.0 0a1.5 1.5 0 1 0 -3.0 0zM247.33 772.84a1.5 1.5 0 1 0 3.0 0a1.5 1.5 0 1 0 -3.0 0zM250.58 773.34a1.5 1.5 0 1 0 3.0 0a1.5 1.5 0 1 0 -3.0 0zM251.63 775.61a1.5 1.5 0 1 0 3.0 0a1.5 1.5 0 1 0 -3.0 0zM254.88 776.12a1.5 1.5 0 1 0 3.0 0a1.5 1.5 0 1 0 -3.0 0zM255.93 778.45a1.5 1.5 0 1 0 3.0 0a1.5 1.5 0 1 0 -3.0 0zM259.17 778.97a1.5 1.5 0 1 0 3.0 0a1.5 1.5 0 1 0 -3.0 0zM260.23 781.34a1.5 1.5 0 1 0 3.0 0a1.5 1.5 0 1 0 -3.0 0zM263.47 781.87a1.5 1.5 0 1 0 3.0 0a1.5 1.5 0 1 0 -3.0 0zM264.52 784.29a1.5 1.5 0 1 0 3.0 0a1.5 1.5 0 1 0 -3.0 0zM267.77 784.83a1.5 1.5 0 1 0 3.0 0a1.5 1.5 0 1 0 -3.0 0zM268.82 787.3a1.5 1.5 0 1 0 3.0 0a1.5 1.5 0 1 0 -3.0 0zM272.07 787.85a1.5 1.5 0 1 0 3.0 0a1.5 1.5 0 1 0 -3.0 0zM273.12 790.37a1.5 1.5 0 1 0 3.0 0a1.5 1.5 0 1 0 -3.0 0zM276.37 790.93a1.5 1.5 0 1 0 3.0 0a1.5 1.5 0 1 0 -3.0 0zM277.42 793.49a1.5 1.5 0 1 0 3.0 0a1.5 1.5 0 1 0 -3.0 0zM280.66 794.06a1.5 1.5 0 1 0 3.0 0a1.5 1.5 0 1 0 -3.0 0zM281.72 796.66a1.5 1.5 0 1 0 3.0 0a1.5 1.5 0 1 0 -3.0 0zM284.96 797.25a1.5 1.5 0 1 0 3.0 0a1.5 1.5 0 1 0 -3.0 0zM286.02 799.9a1.5 1.5 0 1 0 3.0 0a1.5 1.5 0 1 0 -3.0 0zM289.26 800.49a1.5 1.5 0 1 0 3.0 0a1.5 1.5 0 1 0 -3.0 0zM290.31 803.18a1.5 1.5 0 1 0 3.0 0a1.5 1.5 0 1 0 -3.0 0zM293.56 803.78a1.5 1.5 0 1 0 3.0 0a1.5 1.5 0 1 0 -3.0 0zM294.61 806.52a1.5 1.5 0 1 0 3.0 0a1.5 1.5 0 1 0 -3.0 0zM297.86 807.13a1.5 1.5 0 1 0 3.0 0a1.5 1.5 0 1 0 -3.0 0zM298.91 809.91a1.5 1.5 0 1 0 3.0 0a1.5 1.5 0 1 0 -3.0 0zM302.16 810.53a1.5 1.5 0 1 0 3.0 0a1.5 1.5 0 1 0 -3.0 0zM303.21 813.35a1.5 1.5 0 1 0 3.0 0a1.5 1.5 0 1 0 -3.0 0zM306.45 813.98a1.5 1.5 0 1 0 3.0 0a1.5 1.5 0 1 0 -3.0 0zM307.51 816.84a1.5 1.5 0 1 0 3.0 0a1.5 1.5 0 1 0 -3.0 0zM310.75 817.48a1.5 1.5 0 1 0 3.0 0a1.5 1.5 0 1 0 -3.0 0zM311.81 820.38a1.5 1.5 0 1 0 3.0 0a1.5 1.5 0 1 0 -3.0 0zM315.05 821.03a1.5 1.5 0 1 0 3.0 0a1.5 1.5 0 1 0 -3.0 0zM316.1 823.97a1.5 1.5 0 1 0 3.0 0a1.5 1.5 0 1 0 -3.0 0zM319.35 824.62a1.5 1.5 0 1 0 3.0 0a1.5 1.5 0 1 0 -3.0 0zM320.4 827.6a1.5 1.5 0 1 0 3.0 0a1.5 1.5 0 1 0 -3.0 0zM323.65 828.27a1.5 1.5 0 1 0 3.0 0a1.5 1.5 0 1 0 -3.0 0zM324.7 831.29a1.5 1.5 0 1 0 3.0 0a1.5 1.5 0 1 0 -3.0 0zM327.95 831.96a1.5 1.5 0 1 0 3.0 0a1.5 1.5 0 1 0 -3.0 0zM329 835.01a1.5 1.5 0 1 0 3.0 0a1.5 1.5 0 1 0 -3.0 0zM332.24 835.69a1.5 1.5 0 1 0 3.0 0a1.5 1.5 0 1 0 -3.0 0zM333.3 838.78a1.5 1.5 0 1 0 3.0 0a1.5 1.5 0 1 0 -3.0 0zM336.54 839.47a1.5 1.5 0 1 0 3.0 0a1.5 1.5 0 1 0 -3.0 0zM337.59 842.6a1.5 1.5 0 1 0 3.0 0a1.5 1.5 0 1 0 -3.0 0zM340.84 843.29a1.5 1.5 0 1 0 3.0 0a1.5 1.5 0 1 0 -3.0 0zM341.89 846.45a1.5 1.5 0 1 0 3.0 0a1.5 1.5 0 1 0 -3.0 0zM345.14 847.16a1.5 1.5 0 1 0 3.0 0a1.5 1.5 0 1 0 -3.0 0zM346.19 850.35a1.5 1.5 0 1 0 3.0 0a1.5 1.5 0 1 0 -3.0 0zM349.44 851.06a1.5 1.5 0 1 0 3.0 0a1.5 1.5 0 1 0 -3.0 0zM350.49 854.29a1.5 1.5 0 1 0 3.0 0a1.5 1.5 0 1 0 -3.0 0zM353.73 855.01a1.5 1.5 0 1 0 3.0 0a1.5 1.5 0 1 0 -3.0 0zM354.79 858.27a1.5 1.5 0 1 0 3.0 0a1.5 1.5 0 1 0 -3.0 0zM358.03 858.99a1.5 1.5 0 1 0 3.0 0a1.5 1.5 0 1 0 -3.0 0zM359.09 862.28a1.5 1.5 0 1 0 3.0 0a1.5 1.5 0 1 0 -3.0 0zM362.33 863.01a1.5 1.5 0 1 0 3.0 0a1.5 1.5 0 1 0 -3.0 0zM363.38 866.33a1.5 1.5 0 1 0 3.0 0a1.5 1.5 0 1 0 -3.0 0zM366.63 867.07a1.5 1.5 0 1 0 3.0 0a1.5 1.5 0 1 0 -3.0 0zM367.68 870.42a1.5 1.5 0 1 0 3.0 0a1.5 1.5 0 1 0 -3.0 0zM370.93 871.16a1.5 1.5 0 1 0 3.0 0a1.5 1.5 0 1 0 -3.0 0zM371.98 874.54a1.5 1.5 0 1 0 3.0 0a1.5 1.5 0 1 0 -3.0 0zM375.23 875.29a1.5 1.5 0 1 0 3.0 0a1.5 1.5 0 1 0 -3.0 0zM376.28 878.7a1.5 1.5 0 1 0 3.0 0a1.5 1.5 0 1 0 -3.0 0zM379.52 879.45a1.5 1.5 0 1 0 3.0 0a1.5 1.5 0 1 0 -3.0 0zM380.58 882.88a1.5 1.5 0 1 0 3.0 0a1.5 1.5 0 1 0 -3.0 0zM383.82 883.64a1.5 1.5 0 1 0 3.0 0a1.5 1.5 0 1 0 -3.0 0zM384.88 887.1a1.5 1.5 0 1 0 3.0 0a1.5 1.5 0 1 0 -3.0 0zM388.12 887.87a1.5 1.5 0 1 0 3.0 0a1.5 1.5 0 1 0 -3.0 0zM389.17 891.35a1.5 1.5 0 1 0 3.0 0a1.5 1.5 0 1 0 -3.0 0zM392.42 892.12a1.5 1.5 0 1 0 3.0 0a1.5 1.5 0 1 0 -3.0 0zM393.47 895.63a1.5 1.5 0 1 0 3.0 0a1.5 1.5 0 1 0 -3.0 0zM396.72 896.4a1.5 1.5 0 1 0 3.0 0a1.5 1.5 0 1 0 -3.0 0zM397.77 899.93a1.5 1.5 0 1 0 3.0 0a1.5 1.5 0 1 0 -3.0 0zM401.02 900.71a1.5 1.5 0 1 0 3.0 0a1.5 1.5 0 1 0 -3.0 0zM402.07 904.26a1.5 1.5 0 1 0 3.0 0a1.5 1.5 0 1 0 -3.0 0zM405.31 905.04a1.5 1.5 0 1 0 3.0 0a1.5 1.5 0 1 0 -3.0 0zM406.37 908.62a1.5 1.5 0 1 0 3.0 0a1.5 1.5 0 1 0 -3.0 0zM409.61 909.4a1.5 1.5 0 1 0 3.0 0a1.5 1.5 0 1 0 -3.0 0zM410.67 912.99a1.5 1.5 0 1 0 3.0 0a1.5 1.5 0 1 0 -3.0 0zM413.91 913.79a1.5 1.5 0 1 0 3.0 0a1.5 1.5 0 1 0 -3.0 0zM414.96 917.39a1.5 1.5 0 1 0 3.0 0a1.5 1.5 0 1 0 -3.0 0zM418.21 918.19a1.5 1.5 0 1 0 3.0 0a1.5 1.5 0 1 0 -3.0 0zM419.26 921.81a1.5 1.5 0 1 0 3.0 0a1.5 1.5 0 1 0 -3.0 0zM422.51 922.61a1.5 1.5 0 1 0 3.0 0a1.5 1.5 0 1 0 -3.0 0zM423.56 926.25a1.5 1.5 0 1 0 3.0 0a1.5 1.5 0 1 0 -3.0 0z" fill="#06155e"/>
<text x="75.53" y="998" font-size="22">0</text>
<path d="M191.39 998L193.33 998L193.33 982.4L192.05 982.4C191.37 984.8 190.93 985.13 187.94 985.5L187.94 986.89L191.39 986.89Z" fill="#000"/>
<text x="295.85" y="998" font-size="22">2</text>
<text x="406.01" y="998" font-size="22">3</text>
<text x="64.17" y="725.26" font-size="22">0</text>
<text x="38.49" y="786.97" font-size="22">-0.</text>
<path d="M69.87 786.97L71.8 786.97L71.8 771.37L70.53 771.37C69.84 773.77 69.4 774.1 66.41 774.47L66.41 775.86L69.87 775.86Z" fill="#000"/>
<text x="38.49" y="849.88" font-size="22">-0.2</text>
<text x="38.49" y="912.79" font-size="22">-0.3</text>
<text x="38.49" y="975.7" font-size="22">-0.4</text>
<text x="21" y="691.4" text-anchor="middle" font-size="22" fill="#000"  >(c)</text>
<text x="282" y="1016.3" text-anchor="middle" font-size="22" fill="#000" font-style="italic" >x/a</text>
<text x="15.9" y="832.7" text-anchor="middle" font-size="22" fill="#000" font-style="italic" >y/a</text>
<text x="431" y="799.8" text-anchor="middle" font-size="12" fill="#808080"  >(1st order)</text>
<text x="443.2" y="926.5" text-anchor="middle" font-size="11.6" fill="#22387f"  >(real)</text>
<text x="443.2" y="942.5" text-anchor="middle" font-size="11.6" fill="#7d0cf4"  >(3rd)</text>
<text x="443.2" y="958.4" text-anchor="middle" font-size="11.6" fill="#815a78"  >(2nd)</text></svg></body></html>
